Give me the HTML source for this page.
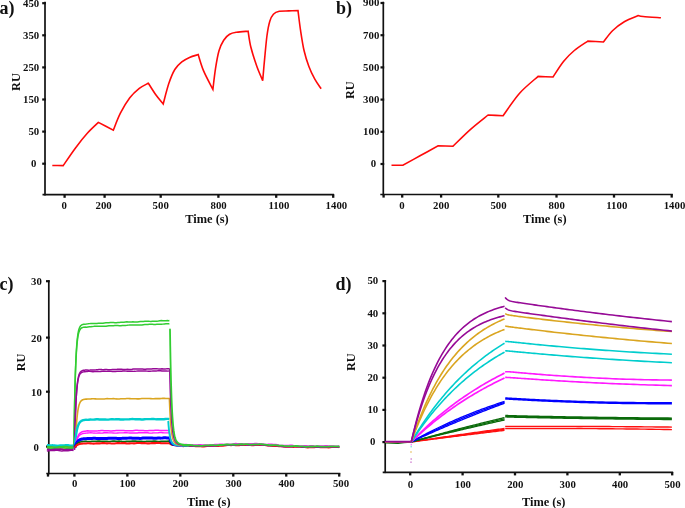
<!DOCTYPE html>
<html><head><meta charset="utf-8"><title>SPR sensorgrams</title>
<style>
html,body{margin:0;padding:0;background:#fff;}
body{width:685px;height:508px;overflow:hidden;}
svg{display:block;will-change:transform;}
svg text{font-family:"Liberation Serif",serif;font-weight:bold;fill:#111;}
</style></head><body>
<svg width="685" height="508" viewBox="0 0 685 508">
<rect width="685" height="508" fill="#fff"/>
<line x1="45.00" y1="1.80" x2="45.00" y2="195.50" stroke="#111" stroke-width="1.7" stroke-linecap="butt"/>
<line x1="42.50" y1="194.70" x2="334.10" y2="194.70" stroke="#111" stroke-width="1.7" stroke-linecap="butt"/>
<line x1="42.20" y1="3.20" x2="45.90" y2="3.20" stroke="#111" stroke-width="2.2" stroke-linecap="butt"/>
<text x="39.20" y="6.50" font-size="10.8" text-anchor="end" >450</text>
<line x1="42.20" y1="35.30" x2="45.90" y2="35.30" stroke="#111" stroke-width="2.2" stroke-linecap="butt"/>
<text x="39.20" y="38.60" font-size="10.8" text-anchor="end" >350</text>
<line x1="42.20" y1="67.40" x2="45.90" y2="67.40" stroke="#111" stroke-width="2.2" stroke-linecap="butt"/>
<text x="39.20" y="70.70" font-size="10.8" text-anchor="end" >250</text>
<line x1="42.20" y1="99.50" x2="45.90" y2="99.50" stroke="#111" stroke-width="2.2" stroke-linecap="butt"/>
<text x="39.20" y="102.80" font-size="10.8" text-anchor="end" >150</text>
<line x1="42.20" y1="131.60" x2="45.90" y2="131.60" stroke="#111" stroke-width="2.2" stroke-linecap="butt"/>
<text x="39.20" y="134.90" font-size="10.8" text-anchor="end" >50</text>
<line x1="42.20" y1="163.70" x2="45.90" y2="163.70" stroke="#111" stroke-width="2.2" stroke-linecap="butt"/>
<text x="36.40" y="167.00" font-size="10.8" text-anchor="end" >0</text>
<line x1="64.60" y1="194.40" x2="64.60" y2="197.80" stroke="#111" stroke-width="2.3" stroke-linecap="butt"/>
<text x="64.30" y="209.00" font-size="10.8" text-anchor="middle" >0</text>
<line x1="104.60" y1="194.40" x2="104.60" y2="197.80" stroke="#111" stroke-width="2.3" stroke-linecap="butt"/>
<text x="103.60" y="209.00" font-size="10.8" text-anchor="middle" >200</text>
<line x1="160.70" y1="194.40" x2="160.70" y2="197.80" stroke="#111" stroke-width="2.3" stroke-linecap="butt"/>
<text x="160.70" y="209.00" font-size="10.8" text-anchor="middle" >500</text>
<line x1="218.40" y1="194.40" x2="218.40" y2="197.80" stroke="#111" stroke-width="2.3" stroke-linecap="butt"/>
<text x="218.60" y="209.00" font-size="10.8" text-anchor="middle" >800</text>
<line x1="276.20" y1="194.40" x2="276.20" y2="197.80" stroke="#111" stroke-width="2.3" stroke-linecap="butt"/>
<text x="278.90" y="209.00" font-size="10.8" text-anchor="middle" >1100</text>
<line x1="333.20" y1="194.40" x2="333.20" y2="197.80" stroke="#111" stroke-width="2.3" stroke-linecap="butt"/>
<text x="336.40" y="209.00" font-size="10.8" text-anchor="middle" >1400</text>
<text transform="translate(15.50,82.00) rotate(-90)" font-size="12.3" text-anchor="middle" dy="0.33em">RU</text>
<text x="207.00" y="223.20" font-size="12.4" text-anchor="middle" >Time (s)</text>
<text x="-0.6" y="13.8" font-size="18">a)</text>
<path d="M52.30,165.50 C54.12,165.52 61.38,165.58 63.20,165.60 L63.20,165.60 C65.25,162.65 71.48,153.28 75.50,147.90 C79.52,142.52 83.48,137.55 87.30,133.30 C91.12,129.05 96.55,124.22 98.40,122.40 L98.40,122.40 C100.88,123.70 110.82,128.90 113.30,130.20 L113.30,130.20 C114.48,127.37 117.65,118.60 120.40,113.20 C123.15,107.80 126.65,101.93 129.80,97.80 C132.95,93.67 136.22,90.83 139.30,88.40 C142.38,85.97 146.80,84.07 148.30,83.20 L148.30,83.20 C149.55,85.13 153.32,91.33 155.80,94.80 C158.28,98.27 161.97,102.47 163.20,104.00 L163.20,104.00 C164.13,100.60 166.87,89.35 168.80,83.60 C170.73,77.85 172.63,73.12 174.80,69.50 C176.97,65.88 179.35,63.92 181.80,61.90 C184.25,59.88 186.77,58.62 189.50,57.40 C192.23,56.18 196.75,55.07 198.20,54.60 L198.20,54.60 C199.10,57.32 201.15,65.10 203.60,70.90 C206.05,76.70 211.35,86.32 212.90,89.40 L212.90,89.40 C213.33,85.93 214.48,75.03 215.50,68.60 C216.52,62.17 217.63,55.53 219.00,50.80 C220.37,46.07 221.93,42.95 223.70,40.20 C225.47,37.45 227.43,35.63 229.60,34.30 C231.77,32.97 233.62,32.72 236.70,32.20 C239.78,31.68 246.20,31.37 248.10,31.20 L248.10,31.20 C248.57,33.88 249.45,41.47 250.90,47.30 C252.35,53.13 254.83,60.65 256.80,66.20 C258.77,71.75 261.72,78.20 262.70,80.60 L262.70,80.60 C263.02,77.02 263.88,66.62 264.60,59.10 C265.32,51.58 266.13,41.80 267.00,35.50 C267.87,29.20 268.73,24.85 269.80,21.30 C270.87,17.75 271.82,15.87 273.40,14.20 C274.98,12.53 276.75,11.85 279.30,11.30 C281.85,10.75 285.58,11.02 288.70,10.90 C291.82,10.78 296.45,10.65 298.00,10.60 L298.00,10.60 C298.43,13.95 299.58,24.00 300.60,30.70 C301.62,37.40 302.73,44.88 304.10,50.80 C305.47,56.72 307.02,61.47 308.80,66.20 C310.58,70.93 312.75,75.45 314.80,79.20 C316.85,82.95 320.05,87.12 321.10,88.70 " fill="none" stroke="#ff0a0a" stroke-width="1.6" stroke-linejoin="miter" stroke-linecap="butt"/>
<line x1="383.30" y1="1.80" x2="383.30" y2="195.30" stroke="#111" stroke-width="1.7" stroke-linecap="butt"/>
<line x1="380.30" y1="194.50" x2="672.80" y2="194.50" stroke="#111" stroke-width="1.7" stroke-linecap="butt"/>
<line x1="380.50" y1="3.00" x2="384.20" y2="3.00" stroke="#111" stroke-width="2.2" stroke-linecap="butt"/>
<text x="379.30" y="6.30" font-size="10.8" text-anchor="end" >900</text>
<line x1="380.50" y1="35.20" x2="384.20" y2="35.20" stroke="#111" stroke-width="2.2" stroke-linecap="butt"/>
<text x="379.30" y="38.50" font-size="10.8" text-anchor="end" >700</text>
<line x1="380.50" y1="67.40" x2="384.20" y2="67.40" stroke="#111" stroke-width="2.2" stroke-linecap="butt"/>
<text x="379.30" y="70.70" font-size="10.8" text-anchor="end" >500</text>
<line x1="380.50" y1="99.60" x2="384.20" y2="99.60" stroke="#111" stroke-width="2.2" stroke-linecap="butt"/>
<text x="379.30" y="102.90" font-size="10.8" text-anchor="end" >300</text>
<line x1="380.50" y1="131.80" x2="384.20" y2="131.80" stroke="#111" stroke-width="2.2" stroke-linecap="butt"/>
<text x="379.30" y="135.10" font-size="10.8" text-anchor="end" >100</text>
<line x1="380.50" y1="164.00" x2="384.20" y2="164.00" stroke="#111" stroke-width="2.2" stroke-linecap="butt"/>
<text x="376.10" y="167.30" font-size="10.8" text-anchor="end" >0</text>
<line x1="383.60" y1="194.20" x2="383.60" y2="197.60" stroke="#111" stroke-width="2.3" stroke-linecap="butt"/>
<line x1="402.20" y1="194.20" x2="402.20" y2="197.60" stroke="#111" stroke-width="2.3" stroke-linecap="butt"/>
<text x="402.00" y="209.10" font-size="10.8" text-anchor="middle" >0</text>
<line x1="441.10" y1="194.20" x2="441.10" y2="197.60" stroke="#111" stroke-width="2.3" stroke-linecap="butt"/>
<text x="441.20" y="209.10" font-size="10.8" text-anchor="middle" >200</text>
<line x1="498.30" y1="194.20" x2="498.30" y2="197.60" stroke="#111" stroke-width="2.3" stroke-linecap="butt"/>
<text x="498.50" y="209.10" font-size="10.8" text-anchor="middle" >500</text>
<line x1="556.50" y1="194.20" x2="556.50" y2="197.60" stroke="#111" stroke-width="2.3" stroke-linecap="butt"/>
<text x="556.70" y="209.10" font-size="10.8" text-anchor="middle" >800</text>
<line x1="614.00" y1="194.20" x2="614.00" y2="197.60" stroke="#111" stroke-width="2.3" stroke-linecap="butt"/>
<text x="616.80" y="209.10" font-size="10.8" text-anchor="middle" >1100</text>
<line x1="671.70" y1="194.20" x2="671.70" y2="197.60" stroke="#111" stroke-width="2.3" stroke-linecap="butt"/>
<text x="674.50" y="209.10" font-size="10.8" text-anchor="middle" >1400</text>
<text transform="translate(350.20,90.20) rotate(-90)" font-size="12.3" text-anchor="middle" dy="0.33em">RU</text>
<text x="544.80" y="222.80" font-size="12.4" text-anchor="middle" >Time (s)</text>
<text x="335.9" y="13.8" font-size="18">b)</text>
<path d="M391.50,165.30 C393.40,165.30 401.00,165.30 402.90,165.30 L402.90,165.30 C405.75,163.72 414.13,159.03 420.00,155.80 C425.87,152.57 435.08,147.55 438.10,145.90 L438.10,145.90 C440.58,145.95 450.52,146.15 453.00,146.20 L453.00,146.20 C455.83,143.47 464.15,135.00 470.00,129.80 C475.85,124.60 485.08,117.47 488.10,115.00 L488.10,115.00 C490.60,115.12 500.60,115.58 503.10,115.70 L503.10,115.70 C505.85,111.95 513.77,99.75 519.60,93.20 C525.43,86.65 535.02,79.20 538.10,76.40 L538.10,76.40 C540.58,76.50 550.52,76.90 553.00,77.00 L553.00,77.00 C554.75,74.42 559.95,65.92 563.50,61.50 C567.05,57.08 570.25,53.90 574.30,50.50 C578.35,47.10 585.55,42.67 587.80,41.10 L587.80,41.10 C590.40,41.25 600.80,41.85 603.40,42.00 L603.40,42.00 C604.92,40.12 609.02,34.08 612.50,30.70 C615.98,27.32 620.02,24.22 624.30,21.70 C628.58,19.18 635.88,16.62 638.20,15.60 L638.20,15.60 C639.03,15.75 639.42,16.15 643.20,16.50 C646.98,16.85 657.95,17.50 660.90,17.70 " fill="none" stroke="#ff0a0a" stroke-width="1.6" stroke-linejoin="miter" stroke-linecap="butt"/>
<line x1="48.80" y1="280.30" x2="48.80" y2="474.30" stroke="#111" stroke-width="1.7" stroke-linecap="butt"/>
<line x1="46.30" y1="473.50" x2="340.30" y2="473.50" stroke="#111" stroke-width="1.7" stroke-linecap="butt"/>
<line x1="46.00" y1="281.20" x2="49.70" y2="281.20" stroke="#111" stroke-width="2.2" stroke-linecap="butt"/>
<text x="41.80" y="285.20" font-size="10.8" text-anchor="end" >30</text>
<line x1="46.00" y1="337.60" x2="49.70" y2="337.60" stroke="#111" stroke-width="2.2" stroke-linecap="butt"/>
<text x="41.80" y="341.60" font-size="10.8" text-anchor="end" >20</text>
<line x1="46.00" y1="391.70" x2="49.70" y2="391.70" stroke="#111" stroke-width="2.2" stroke-linecap="butt"/>
<text x="41.80" y="395.70" font-size="10.8" text-anchor="end" >10</text>
<line x1="46.00" y1="446.60" x2="49.70" y2="446.60" stroke="#111" stroke-width="2.2" stroke-linecap="butt"/>
<text x="39.00" y="450.60" font-size="10.8" text-anchor="end" >0</text>
<line x1="48.00" y1="473.20" x2="48.00" y2="476.60" stroke="#111" stroke-width="2.3" stroke-linecap="butt"/>
<line x1="74.40" y1="473.20" x2="74.40" y2="476.60" stroke="#111" stroke-width="2.3" stroke-linecap="butt"/>
<text x="74.70" y="487.40" font-size="10.8" text-anchor="middle" >0</text>
<line x1="127.36" y1="473.20" x2="127.36" y2="476.60" stroke="#111" stroke-width="2.3" stroke-linecap="butt"/>
<text x="127.66" y="487.40" font-size="10.8" text-anchor="middle" >100</text>
<line x1="180.32" y1="473.20" x2="180.32" y2="476.60" stroke="#111" stroke-width="2.3" stroke-linecap="butt"/>
<text x="180.62" y="487.40" font-size="10.8" text-anchor="middle" >200</text>
<line x1="233.28" y1="473.20" x2="233.28" y2="476.60" stroke="#111" stroke-width="2.3" stroke-linecap="butt"/>
<text x="233.58" y="487.40" font-size="10.8" text-anchor="middle" >300</text>
<line x1="286.24" y1="473.20" x2="286.24" y2="476.60" stroke="#111" stroke-width="2.3" stroke-linecap="butt"/>
<text x="286.54" y="487.40" font-size="10.8" text-anchor="middle" >400</text>
<line x1="339.20" y1="473.20" x2="339.20" y2="476.60" stroke="#111" stroke-width="2.3" stroke-linecap="butt"/>
<text x="341.00" y="487.40" font-size="10.8" text-anchor="middle" >500</text>
<text transform="translate(21.30,362.40) rotate(-90)" font-size="12.3" text-anchor="middle" dy="0.33em">RU</text>
<text x="208.80" y="505.80" font-size="12.4" text-anchor="middle" >Time (s)</text>
<text x="-0.6" y="289.6" font-size="18">c)</text>
<path d="M46.90,447.09 L48.40,447.10 L49.90,447.27 L51.40,447.32 L52.90,447.25 L54.40,447.30 L55.90,447.57 L57.40,447.78 L58.90,447.70 L60.40,447.47 L61.90,447.37 L63.40,447.42 L64.90,447.38 L66.40,447.15 L67.90,447.01 L69.40,447.16 L70.90,447.45 L72.40,447.56 L73.50,447.40" fill="none" stroke="#ff1010" stroke-width="1.5" stroke-linejoin="round" stroke-linecap="butt"/>
<path d="M46.90,447.30 L48.40,447.37 L49.90,447.30 L51.40,447.36 L52.90,447.62 L54.40,447.80 L55.90,447.68 L57.40,447.42 L58.90,447.31 L60.40,447.37 L61.90,447.34 L63.40,447.14 L64.90,447.03 L66.40,447.21 L67.90,447.51 L69.40,447.62 L70.90,447.53 L72.40,447.51 L73.50,447.40" fill="none" stroke="#0a6a0a" stroke-width="1.5" stroke-linejoin="round" stroke-linecap="butt"/>
<path d="M46.90,447.36 L48.40,447.42 L49.90,447.65 L51.40,447.80 L52.90,447.64 L54.40,447.36 L55.90,447.25 L57.40,447.32 L58.90,447.31 L60.40,447.13 L61.90,447.06 L63.40,447.27 L64.90,447.57 L66.40,447.67 L67.90,447.55 L69.40,447.51 L70.90,447.61 L72.40,447.63 L73.50,447.40" fill="none" stroke="#0000ff" stroke-width="1.5" stroke-linejoin="round" stroke-linecap="butt"/>
<path d="M46.90,447.67 L48.40,447.78 L49.90,447.59 L51.40,447.30 L52.90,447.20 L54.40,447.28 L55.90,447.29 L57.40,447.15 L58.90,447.11 L60.40,447.34 L61.90,447.64 L63.40,447.70 L64.90,447.56 L66.40,447.49 L67.90,447.57 L69.40,447.57 L70.90,447.33 L72.40,447.06 L73.50,447.40" fill="none" stroke="#ff1aff" stroke-width="1.5" stroke-linejoin="round" stroke-linecap="butt"/>
<path d="M46.90,447.73 L48.40,447.43 L49.90,447.35 L51.40,447.46 L52.90,447.49 L54.40,447.38 L55.90,447.36 L57.40,447.60 L58.90,447.89 L60.40,447.93 L61.90,447.76 L63.40,447.66 L64.90,447.72 L66.40,447.71 L67.90,447.47 L69.40,447.23 L70.90,447.26 L72.40,447.50 L73.50,447.60" fill="none" stroke="#daa520" stroke-width="1.5" stroke-linejoin="round" stroke-linecap="butt"/>
<path d="M46.90,445.06 L48.40,445.21 L49.90,445.34 L51.40,445.29 L52.90,445.27 L54.40,445.47 L55.90,445.74 L57.40,445.77 L58.90,445.54 L60.40,445.36 L61.90,445.38 L63.40,445.41 L64.90,445.24 L66.40,445.03 L67.90,445.08 L69.40,445.36 L70.90,445.57 L72.40,445.54 L73.50,445.40" fill="none" stroke="#00cdcd" stroke-width="2.3" stroke-linejoin="round" stroke-linecap="butt"/>
<path d="M46.90,446.63 L48.40,446.76 L49.90,446.72 L51.40,446.71 L52.90,446.92 L54.40,447.17 L55.90,447.15 L57.40,446.90 L58.90,446.73 L60.40,446.76 L61.90,446.77 L63.40,446.61 L64.90,446.43 L66.40,446.52 L67.90,446.82 L69.40,447.00 L70.90,446.95 L72.40,446.89 L73.50,446.80" fill="none" stroke="#32cd32" stroke-width="1.5" stroke-linejoin="round" stroke-linecap="butt"/>
<path d="M46.90,447.99 L48.40,447.94 L49.90,448.08 L51.40,448.33 L52.90,448.38 L54.40,448.14 L55.90,447.91 L57.40,447.89 L58.90,447.95 L60.40,447.85 L61.90,447.67 L63.40,447.69 L64.90,447.98 L66.40,448.23 L67.90,448.22 L69.40,448.11 L70.90,448.14 L72.40,448.26 L73.50,448.00" fill="none" stroke="#32cd32" stroke-width="1.5" stroke-linejoin="round" stroke-linecap="butt"/>
<path d="M46.90,449.40 L48.40,449.60 L49.90,449.78 L51.40,449.69 L52.90,449.39 L54.40,449.23 L55.90,449.28 L57.40,449.32 L58.90,449.18 L60.40,449.07 L61.90,449.22 L63.40,449.54 L64.90,449.69 L66.40,449.59 L67.90,449.50 L69.40,449.57 L70.90,449.63 L72.40,449.44 L73.50,449.40" fill="none" stroke="#960a96" stroke-width="1.5" stroke-linejoin="round" stroke-linecap="butt"/>
<path d="M46.90,450.97 L48.40,450.79 L49.90,450.48 L51.40,450.37 L52.90,450.46 L54.40,450.49 L55.90,450.37 L57.40,450.32 L58.90,450.54 L60.40,450.85 L61.90,450.92 L63.40,450.77 L64.90,450.68 L66.40,450.74 L67.90,450.75 L69.40,450.53 L70.90,450.26 L72.40,450.24 L73.50,450.60" fill="none" stroke="#960a96" stroke-width="1.5" stroke-linejoin="round" stroke-linecap="butt"/>
<path d="M73.90,447.40 L74.27,422.13 L74.63,402.03 L75.00,386.05 L75.37,373.34 L75.73,363.24 L76.10,355.20 L76.47,348.81 L76.83,343.73 L77.20,339.69 L77.57,336.48 L77.93,333.92 L78.30,331.89 L78.67,330.27 L79.03,328.99 L79.40,327.97 L79.77,327.15 L80.13,326.51 L80.50,325.99 L80.87,325.59 L81.23,325.26 L81.60,325.00 L81.97,324.80 L82.33,324.63 L82.70,324.50 L83.07,324.40 L83.43,324.32 L83.80,324.25 L84.17,324.20 L84.53,324.16 L84.90,324.13 L86.40,324.02 L87.90,323.86 L89.40,323.62 L90.90,323.42 L92.40,323.41 L93.90,323.51 L95.40,323.52 L96.90,323.41 L98.40,323.33 L99.90,323.36 L101.40,323.35 L102.90,323.17 L104.40,322.91 L105.90,322.76 L107.40,322.76 L108.90,322.74 L110.40,322.62 L111.90,322.52 L113.40,322.59 L114.90,322.73 L116.40,322.72 L117.90,322.55 L119.40,322.41 L120.90,322.37 L122.40,322.33 L123.90,322.14 L125.40,321.92 L126.90,321.85 L128.40,321.95 L129.90,322.01 L131.40,321.94 L132.90,321.87 L134.40,321.92 L135.90,321.99 L137.40,321.89 L138.90,321.65 L140.40,321.47 L141.90,321.44 L143.40,321.43 L144.90,321.31 L146.40,321.18 L147.90,321.20 L149.40,321.35 L150.90,321.42 L152.40,321.31 L153.90,321.18 L155.40,321.15 L156.90,321.15 L158.40,321.01 L159.90,320.76 L161.40,320.62 L162.90,320.67 L164.40,320.74 L165.90,320.70 L167.40,320.62 L168.90,320.65 L169.40,320.60" fill="none" stroke="#32cd32" stroke-width="1.5" stroke-linejoin="round" stroke-linecap="butt"/>
<path d="M73.90,447.40 L74.27,422.74 L74.63,403.13 L75.00,387.54 L75.37,375.14 L75.73,365.28 L76.10,357.44 L76.47,351.21 L76.83,346.25 L77.20,342.31 L77.57,339.17 L77.93,336.68 L78.30,334.70 L78.67,333.12 L79.03,331.87 L79.40,330.87 L79.77,330.08 L80.13,329.45 L80.50,328.95 L80.87,328.55 L81.23,328.23 L81.60,327.98 L81.97,327.78 L82.33,327.62 L82.70,327.49 L83.07,327.39 L83.43,327.31 L83.80,327.25 L84.17,327.20 L84.53,327.16 L84.90,327.12 L86.40,327.17 L87.90,326.92 L89.40,326.82 L90.90,326.77 L92.40,326.62 L93.90,326.37 L95.40,326.22 L96.90,326.26 L98.40,326.35 L99.90,326.32 L101.40,326.22 L102.90,326.21 L104.40,326.29 L105.90,326.26 L107.40,326.05 L108.90,325.81 L110.40,325.73 L111.90,325.73 L113.40,325.65 L114.90,325.50 L116.40,325.46 L117.90,325.58 L119.40,325.69 L120.90,325.64 L122.40,325.49 L123.90,325.42 L125.40,325.43 L126.90,325.34 L128.40,325.12 L129.90,324.92 L131.40,324.90 L132.90,324.99 L134.40,325.00 L135.90,324.91 L137.40,324.89 L138.90,325.00 L140.40,325.06 L141.90,324.92 L143.40,324.70 L144.90,324.58 L146.40,324.57 L147.90,324.51 L149.40,324.35 L150.90,324.24 L152.40,324.31 L153.90,324.46 L155.40,324.48 L156.90,324.37 L158.40,324.30 L159.90,324.33 L161.40,324.31 L162.90,324.12 L164.40,323.88 L165.90,323.79 L167.40,323.85 L168.90,323.87 L169.40,323.90" fill="none" stroke="#32cd32" stroke-width="1.5" stroke-linejoin="round" stroke-linecap="butt"/>
<path d="M74.50,449.80 L74.87,433.46 L75.23,420.46 L75.60,410.13 L75.97,401.91 L76.33,395.37 L76.70,390.18 L77.07,386.04 L77.43,382.76 L77.80,380.15 L78.17,378.07 L78.53,376.42 L78.90,375.10 L79.27,374.06 L79.63,373.23 L80.00,372.57 L80.37,372.04 L80.73,371.62 L81.10,371.29 L81.47,371.03 L81.83,370.82 L82.20,370.65 L82.57,370.52 L82.93,370.41 L83.30,370.33 L83.67,370.26 L84.03,370.21 L84.40,370.16 L84.77,370.13 L85.13,370.10 L85.50,370.08 L87.00,370.02 L88.50,370.13 L90.00,370.09 L91.50,369.95 L93.00,369.90 L94.50,369.93 L96.00,369.86 L97.50,369.65 L99.00,369.48 L100.50,369.50 L102.00,369.62 L103.50,369.64 L105.00,369.58 L106.50,369.59 L108.00,369.72 L109.50,369.79 L111.00,369.68 L112.50,369.48 L114.00,369.38 L115.50,369.40 L117.00,369.37 L118.50,369.23 L120.00,369.15 L121.50,369.26 L123.00,369.43 L124.50,369.47 L126.00,369.38 L127.50,369.33 L129.00,369.39 L130.50,369.38 L132.00,369.21 L133.50,369.00 L135.00,368.95 L136.50,369.03 L138.00,369.07 L139.50,369.01 L141.00,369.00 L142.50,369.12 L144.00,369.26 L145.50,369.23 L147.00,369.06 L148.50,368.95 L150.00,368.95 L151.50,368.93 L153.00,368.79 L154.50,368.65 L156.00,368.68 L157.50,368.85 L159.00,368.94 L160.50,368.89 L162.00,368.85 L163.50,368.91 L165.00,368.97 L166.50,368.86 L168.00,368.63 L169.40,368.70" fill="none" stroke="#960a96" stroke-width="1.5" stroke-linejoin="round" stroke-linecap="butt"/>
<path d="M74.50,449.80 L74.87,433.78 L75.23,421.05 L75.60,410.92 L75.97,402.87 L76.33,396.46 L76.70,391.37 L77.07,387.32 L77.43,384.10 L77.80,381.54 L78.17,379.51 L78.53,377.89 L78.90,376.60 L79.27,375.58 L79.63,374.76 L80.00,374.11 L80.37,373.60 L80.73,373.19 L81.10,372.86 L81.47,372.61 L81.83,372.40 L82.20,372.24 L82.57,372.11 L82.93,372.00 L83.30,371.92 L83.67,371.85 L84.03,371.80 L84.40,371.76 L84.77,371.73 L85.13,371.70 L85.50,371.68 L87.00,371.48 L88.50,371.35 L90.00,371.39 L91.50,371.57 L93.00,371.68 L94.50,371.62 L96.00,371.55 L97.50,371.57 L99.00,371.62 L100.50,371.51 L102.00,371.30 L103.50,371.18 L105.00,371.24 L106.50,371.33 L108.00,371.31 L109.50,371.26 L111.00,371.35 L112.50,371.51 L114.00,371.56 L115.50,371.43 L117.00,371.28 L118.50,371.25 L120.00,371.27 L121.50,371.18 L123.00,371.02 L124.50,371.00 L126.00,371.15 L127.50,371.30 L129.00,371.30 L130.50,371.23 L132.00,371.26 L133.50,371.35 L135.00,371.32 L136.50,371.12 L138.00,370.95 L139.50,370.95 L141.00,371.03 L142.50,371.01 L144.00,370.94 L145.50,370.98 L147.00,371.16 L148.50,371.28 L150.00,371.22 L151.50,371.08 L153.00,371.03 L154.50,371.06 L156.00,371.00 L157.50,370.82 L159.00,370.72 L160.50,370.80 L162.00,370.96 L163.50,371.00 L165.00,370.95 L166.50,370.97 L168.00,371.09 L169.40,370.90" fill="none" stroke="#960a96" stroke-width="1.4" stroke-linejoin="round" stroke-linecap="butt"/>
<path d="M75.30,447.60 L75.67,438.64 L76.03,431.34 L76.40,425.38 L76.77,420.52 L77.13,416.55 L77.50,413.32 L77.87,410.68 L78.23,408.53 L78.60,406.77 L78.97,405.34 L79.33,404.17 L79.70,403.22 L80.07,402.44 L80.43,401.81 L80.80,401.29 L81.17,400.87 L81.53,400.52 L81.90,400.24 L82.27,400.01 L82.63,399.83 L83.00,399.67 L83.37,399.55 L83.73,399.45 L84.10,399.37 L84.47,399.30 L84.83,399.24 L85.20,399.20 L85.57,399.16 L85.93,399.13 L86.30,399.11 L87.80,398.98 L89.30,398.98 L90.80,398.87 L92.30,398.72 L93.80,398.73 L95.30,398.89 L96.80,399.02 L98.30,399.00 L99.80,398.95 L101.30,398.99 L102.80,399.07 L104.30,399.00 L105.80,398.80 L107.30,398.65 L108.80,398.68 L110.30,398.76 L111.80,398.73 L113.30,398.67 L114.80,398.74 L116.30,398.92 L117.80,399.02 L119.30,398.93 L120.80,398.79 L122.30,398.77 L123.80,398.80 L125.30,398.71 L126.80,398.53 L128.30,398.46 L129.80,398.58 L131.30,398.73 L132.80,398.75 L134.30,398.70 L135.80,398.75 L137.30,398.87 L138.80,398.88 L140.30,398.71 L141.80,398.52 L143.30,398.50 L144.80,398.55 L146.30,398.53 L147.80,398.44 L149.30,398.45 L150.80,398.62 L152.30,398.78 L153.80,398.76 L155.30,398.65 L156.80,398.62 L158.30,398.66 L159.80,398.61 L161.30,398.43 L162.80,398.29 L164.30,398.33 L165.80,398.47 L167.30,398.52 L168.80,398.48 L169.40,398.50" fill="none" stroke="#daa520" stroke-width="1.6" stroke-linejoin="round" stroke-linecap="butt"/>
<path d="M74.90,445.40 L75.27,441.44 L75.63,438.09 L76.00,435.25 L76.37,432.85 L76.73,430.81 L77.10,429.09 L77.47,427.63 L77.83,426.40 L78.20,425.36 L78.57,424.47 L78.93,423.72 L79.30,423.09 L79.67,422.56 L80.03,422.10 L80.40,421.72 L80.77,421.39 L81.13,421.12 L81.50,420.88 L81.87,420.69 L82.23,420.52 L82.60,420.38 L82.97,420.26 L83.33,420.16 L83.70,420.07 L84.07,420.00 L84.43,419.94 L84.80,419.89 L85.17,419.84 L85.53,419.81 L85.90,419.77 L87.40,419.83 L88.90,419.69 L90.40,419.57 L91.90,419.58 L93.40,419.58 L94.90,419.44 L96.40,419.28 L97.90,419.28 L99.40,419.44 L100.90,419.55 L102.40,419.52 L103.90,419.49 L105.40,419.57 L106.90,419.67 L108.40,419.60 L109.90,419.40 L111.40,419.26 L112.90,419.29 L114.40,419.33 L115.90,419.27 L117.40,419.20 L118.90,419.27 L120.40,419.47 L121.90,419.57 L123.40,419.49 L124.90,419.39 L126.40,419.39 L127.90,419.42 L129.40,419.31 L130.90,419.12 L132.40,419.04 L133.90,419.15 L135.40,419.27 L136.90,419.27 L138.40,419.24 L139.90,419.31 L141.40,419.45 L142.90,419.47 L144.40,419.31 L145.90,419.14 L147.40,419.12 L148.90,419.16 L150.40,419.10 L151.90,418.98 L153.40,419.00 L154.90,419.17 L156.40,419.32 L157.90,419.31 L159.40,419.22 L160.90,419.23 L162.40,419.29 L163.90,419.23 L165.40,419.04 L166.90,418.89 L168.40,418.92 L169.40,419.10" fill="none" stroke="#00cdcd" stroke-width="2.4" stroke-linejoin="round" stroke-linecap="butt"/>
<path d="M75.20,447.40 L75.57,445.06 L75.93,443.06 L76.30,441.33 L76.67,439.86 L77.03,438.59 L77.40,437.50 L77.77,436.56 L78.13,435.76 L78.50,435.07 L78.87,434.48 L79.23,433.97 L79.60,433.54 L79.97,433.16 L80.33,432.84 L80.70,432.57 L81.07,432.33 L81.43,432.13 L81.80,431.95 L82.17,431.81 L82.53,431.68 L82.90,431.57 L83.27,431.47 L83.63,431.39 L84.00,431.32 L84.37,431.26 L84.73,431.21 L85.10,431.17 L85.47,431.13 L85.83,431.10 L86.20,431.07 L87.70,430.78 L89.20,430.96 L90.70,431.08 L92.20,431.02 L93.70,430.90 L95.20,430.88 L96.70,430.91 L98.20,430.83 L99.70,430.64 L101.20,430.53 L102.70,430.61 L104.20,430.75 L105.70,430.77 L107.20,430.72 L108.70,430.77 L110.20,430.91 L111.70,430.96 L113.20,430.81 L114.70,430.63 L116.20,430.58 L117.70,430.62 L119.20,430.59 L120.70,430.47 L122.20,430.45 L123.70,430.61 L125.20,430.78 L126.70,430.79 L128.20,430.70 L129.70,430.68 L131.20,430.74 L132.70,430.71 L134.20,430.53 L135.70,430.36 L137.20,430.36 L138.70,430.48 L140.20,430.52 L141.70,430.48 L143.20,430.50 L144.70,430.65 L146.20,430.77 L147.70,430.70 L149.20,430.53 L150.70,430.44 L152.20,430.47 L153.70,430.45 L155.20,430.31 L156.70,430.22 L158.20,430.32 L159.70,430.50 L161.20,430.57 L162.70,430.51 L164.20,430.49 L165.70,430.57 L167.20,430.60 L168.70,430.46 L169.40,430.40" fill="none" stroke="#ff1aff" stroke-width="1.5" stroke-linejoin="round" stroke-linecap="butt"/>
<path d="M75.20,447.40 L75.57,445.36 L75.93,443.61 L76.30,442.11 L76.67,440.82 L77.03,439.71 L77.40,438.76 L77.77,437.94 L78.13,437.24 L78.50,436.64 L78.87,436.13 L79.23,435.68 L79.60,435.30 L79.97,434.98 L80.33,434.70 L80.70,434.46 L81.07,434.25 L81.43,434.07 L81.80,433.92 L82.17,433.79 L82.53,433.68 L82.90,433.58 L83.27,433.50 L83.63,433.43 L84.00,433.37 L84.37,433.32 L84.73,433.27 L85.10,433.23 L85.47,433.20 L85.83,433.17 L86.20,433.15 L87.70,432.94 L89.20,432.85 L90.70,432.77 L92.20,432.88 L93.70,433.07 L95.20,433.16 L96.70,433.08 L98.20,433.02 L99.70,433.07 L101.20,433.09 L102.70,432.96 L104.20,432.77 L105.70,432.71 L107.20,432.82 L108.70,432.91 L110.20,432.89 L111.70,432.87 L113.20,432.98 L114.70,433.14 L116.20,433.15 L117.70,432.99 L119.20,432.86 L120.70,432.86 L122.20,432.88 L123.70,432.79 L125.20,432.66 L126.70,432.70 L128.20,432.88 L129.70,433.01 L131.20,432.99 L132.70,432.94 L134.20,432.99 L135.70,433.06 L137.20,432.99 L138.70,432.78 L140.20,432.66 L141.70,432.70 L143.20,432.79 L144.70,432.78 L146.20,432.73 L147.70,432.81 L149.20,433.00 L150.70,433.08 L152.20,432.99 L153.70,432.85 L155.20,432.83 L156.70,432.86 L158.20,432.78 L159.70,432.62 L161.20,432.57 L162.70,432.71 L164.20,432.86 L165.70,432.88 L167.20,432.84 L168.70,432.89 L169.40,432.80" fill="none" stroke="#ff1aff" stroke-width="1.4" stroke-linejoin="round" stroke-linecap="butt"/>
<path d="M75.00,447.40 L75.37,446.15 L75.73,445.08 L76.10,444.16 L76.47,443.38 L76.83,442.70 L77.20,442.12 L77.57,441.62 L77.93,441.19 L78.30,440.82 L78.67,440.51 L79.03,440.24 L79.40,440.01 L79.77,439.81 L80.13,439.64 L80.50,439.49 L80.87,439.36 L81.23,439.26 L81.60,439.16 L81.97,439.08 L82.33,439.01 L82.70,438.96 L83.07,438.91 L83.43,438.86 L83.80,438.82 L84.17,438.79 L84.53,438.77 L84.90,438.74 L85.27,438.72 L85.63,438.70 L86.00,438.69 L87.50,438.60 L89.00,438.51 L90.50,438.53 L92.00,438.49 L93.50,438.35 L95.00,438.28 L96.50,438.39 L98.00,438.57 L99.50,438.61 L101.00,438.54 L102.50,438.52 L104.00,438.59 L105.50,438.60 L107.00,438.43 L108.50,438.23 L110.00,438.19 L111.50,438.28 L113.00,438.31 L114.50,438.25 L116.00,438.25 L117.50,438.39 L119.00,438.55 L120.50,438.53 L122.00,438.37 L123.50,438.28 L125.00,438.30 L126.50,438.28 L128.00,438.13 L129.50,438.00 L131.00,438.05 L132.50,438.22 L134.00,438.31 L135.50,438.27 L137.00,438.24 L138.50,438.33 L140.00,438.40 L141.50,438.30 L143.00,438.09 L144.50,437.98 L146.00,438.03 L147.50,438.07 L149.00,438.00 L150.50,437.95 L152.00,438.06 L153.50,438.25 L155.00,438.31 L156.50,438.21 L158.00,438.11 L159.50,438.12 L161.00,438.13 L162.50,438.00 L164.00,437.82 L165.50,437.78 L167.00,437.91 L168.50,438.03 L169.40,438.00" fill="none" stroke="#0000ff" stroke-width="3.0" stroke-linejoin="round" stroke-linecap="butt"/>
<path d="M75.00,447.40 L75.37,446.54 L75.73,445.79 L76.10,445.16 L76.47,444.61 L76.83,444.14 L77.20,443.74 L77.57,443.39 L77.93,443.10 L78.30,442.84 L78.67,442.62 L79.03,442.44 L79.40,442.28 L79.77,442.14 L80.13,442.02 L80.50,441.92 L80.87,441.83 L81.23,441.75 L81.60,441.69 L81.97,441.63 L82.33,441.59 L82.70,441.55 L83.07,441.51 L83.43,441.48 L83.80,441.46 L84.17,441.43 L84.53,441.41 L84.90,441.40 L85.27,441.38 L85.63,441.37 L86.00,441.36 L87.50,441.48 L89.00,441.55 L90.50,441.43 L92.00,441.30 L93.50,441.30 L95.00,441.32 L96.50,441.23 L98.00,441.08 L99.50,441.07 L101.00,441.22 L102.50,441.38 L104.00,441.38 L105.50,441.34 L107.00,441.40 L108.50,441.51 L110.00,441.48 L111.50,441.29 L113.00,441.14 L114.50,441.15 L116.00,441.23 L117.50,441.21 L119.00,441.14 L120.50,441.20 L122.00,441.39 L123.50,441.53 L125.00,441.48 L126.50,441.36 L128.00,441.34 L129.50,441.38 L131.00,441.32 L132.50,441.14 L134.00,441.05 L135.50,441.14 L137.00,441.30 L138.50,441.34 L140.00,441.30 L141.50,441.35 L143.00,441.49 L144.50,441.54 L146.00,441.40 L147.50,441.22 L149.00,441.18 L150.50,441.24 L152.00,441.22 L153.50,441.12 L155.00,441.11 L156.50,441.28 L158.00,441.46 L159.50,441.48 L161.00,441.39 L162.50,441.36 L164.00,441.42 L165.50,441.41 L167.00,441.24 L168.50,441.07 L169.40,441.30" fill="none" stroke="#0a6a0a" stroke-width="1.6" stroke-linejoin="round" stroke-linecap="butt"/>
<path d="M75.00,447.40 L75.37,446.83 L75.73,446.35 L76.10,445.93 L76.47,445.57 L76.83,445.26 L77.20,445.00 L77.57,444.77 L77.93,444.58 L78.30,444.41 L78.67,444.27 L79.03,444.15 L79.40,444.04 L79.77,443.95 L80.13,443.87 L80.50,443.80 L80.87,443.75 L81.23,443.70 L81.60,443.66 L81.97,443.62 L82.33,443.59 L82.70,443.56 L83.07,443.54 L83.43,443.52 L83.80,443.50 L84.17,443.49 L84.53,443.48 L84.90,443.46 L85.27,443.46 L85.63,443.45 L86.00,443.44 L87.50,443.27 L89.00,443.25 L90.50,443.40 L92.00,443.57 L93.50,443.58 L95.00,443.45 L96.50,443.38 L98.00,443.41 L99.50,443.39 L101.00,443.23 L102.50,443.08 L104.00,443.10 L105.50,443.26 L107.00,443.35 L108.50,443.32 L110.00,443.31 L111.50,443.43 L113.00,443.52 L114.50,443.44 L116.00,443.25 L117.50,443.14 L119.00,443.17 L120.50,443.20 L122.00,443.11 L123.50,443.05 L125.00,443.15 L126.50,443.35 L128.00,443.43 L129.50,443.35 L131.00,443.28 L132.50,443.31 L134.00,443.33 L135.50,443.21 L137.00,443.01 L138.50,442.96 L140.00,443.07 L141.50,443.17 L143.00,443.16 L144.50,443.13 L146.00,443.24 L147.50,443.39 L149.00,443.39 L150.50,443.23 L152.00,443.09 L153.50,443.09 L155.00,443.12 L156.50,443.03 L158.00,442.91 L159.50,442.94 L161.00,443.13 L162.50,443.27 L164.00,443.24 L165.50,443.18 L167.00,443.21 L168.50,443.28 L169.40,443.10" fill="none" stroke="#ff1010" stroke-width="2.1" stroke-linejoin="round" stroke-linecap="butt"/>
<path d="M183.00,446.45 L184.60,446.27 L186.20,446.18 L187.80,446.24 L189.40,446.24 L191.00,446.11 L192.60,446.06 L194.20,446.26 L195.80,446.50 L197.40,446.56 L199.00,446.53 L200.60,446.61 L202.20,446.73 L203.80,446.65 L205.40,446.39 L207.00,446.20 L208.60,446.21 L210.20,446.20 L211.80,446.06 L213.40,445.96 L215.00,446.06 L216.60,446.21 L218.20,446.15 L219.80,445.97 L221.40,445.90 L223.00,445.90 L224.60,445.74 L226.20,445.44 L227.80,445.27 L229.40,445.33 L231.00,445.42 L232.60,445.37 L234.20,445.32 L235.80,445.44 L237.40,445.56 L239.00,445.46 L240.60,445.22 L242.20,445.11 L243.80,445.17 L245.40,445.17 L247.00,445.06 L248.60,445.05 L250.20,445.25 L251.80,445.44 L253.40,445.41 L255.00,445.28 L256.60,445.28 L258.20,445.33 L259.80,445.22 L261.40,445.05 L263.00,445.09 L264.60,445.36 L266.20,445.61 L267.80,445.71 L269.40,445.81 L271.00,446.04 L272.60,446.19 L274.20,446.16 L275.80,446.07 L277.40,446.18 L279.00,446.41 L280.60,446.54 L282.20,446.55 L283.80,446.66 L285.40,446.91 L287.00,447.09 L288.60,447.07 L290.20,447.03 L291.80,447.12 L293.40,447.22 L295.00,447.11 L296.60,446.93 L298.20,446.93 L299.80,447.11 L301.40,447.22 L303.00,447.21 L304.60,447.29 L306.20,447.52 L307.80,447.67 L309.40,447.57 L311.00,447.40 L312.60,447.37 L314.20,447.41 L315.80,447.30 L317.40,447.14 L319.00,447.17 L320.60,447.39 L322.20,447.53 L323.80,447.49 L325.40,447.47 L327.00,447.58 L328.60,447.63 L330.20,447.45 L331.80,447.23 L333.40,447.20 L335.00,447.31 L336.60,447.32 L338.20,447.24 L338.80,447.40" fill="none" stroke="#ff1010" stroke-width="1.5" stroke-linejoin="round" stroke-linecap="round"/>
<path d="M183.00,445.71 L184.60,445.77 L186.20,445.74 L187.80,445.62 L189.40,445.64 L191.00,445.88 L192.60,446.10 L194.20,446.12 L195.80,446.08 L197.40,446.17 L199.00,446.27 L200.60,446.16 L202.20,445.93 L203.80,445.86 L205.40,445.95 L207.00,445.97 L208.60,445.85 L210.20,445.79 L211.80,445.91 L213.40,445.98 L215.00,445.82 L216.60,445.58 L218.20,445.50 L219.80,445.52 L221.40,445.41 L223.00,445.18 L224.60,445.10 L226.20,445.21 L227.80,445.26 L229.40,445.14 L231.00,445.03 L232.60,445.09 L234.20,445.14 L235.80,444.99 L237.40,444.75 L239.00,444.70 L240.60,444.79 L242.20,444.79 L243.80,444.70 L245.40,444.75 L247.00,444.96 L248.60,445.10 L250.20,445.00 L251.80,444.86 L253.40,444.86 L255.00,444.88 L256.60,444.74 L258.20,444.54 L259.80,444.56 L261.40,444.81 L263.00,445.01 L264.60,445.10 L266.20,445.25 L267.80,445.53 L269.40,445.70 L271.00,445.59 L272.60,445.40 L274.20,445.44 L275.80,445.64 L277.40,445.76 L279.00,445.84 L280.60,446.09 L282.20,446.48 L283.80,446.70 L285.40,446.64 L287.00,446.57 L288.60,446.64 L290.20,446.68 L291.80,446.53 L293.40,446.38 L295.00,446.45 L296.60,446.66 L298.20,446.77 L299.80,446.77 L301.40,446.88 L303.00,447.12 L304.60,447.22 L306.20,447.08 L307.80,446.92 L309.40,446.93 L311.00,446.97 L312.60,446.86 L314.20,446.74 L315.80,446.84 L317.40,447.08 L319.00,447.18 L320.60,447.10 L322.20,447.08 L323.80,447.17 L325.40,447.17 L327.00,446.96 L328.60,446.77 L330.20,446.80 L331.80,446.93 L333.40,446.93 L335.00,446.89 L336.60,447.00 L338.20,447.22 L338.80,447.00" fill="none" stroke="#960a96" stroke-width="1.7" stroke-linejoin="round" stroke-linecap="round"/>
<path d="M183.00,444.52 L184.60,444.41 L186.20,444.41 L187.80,444.63 L189.40,444.86 L191.00,444.89 L192.60,444.82 L194.20,444.88 L195.80,444.97 L197.40,444.89 L199.00,444.69 L200.60,444.62 L202.20,444.77 L203.80,444.87 L205.40,444.81 L207.00,444.77 L208.60,444.88 L210.20,444.95 L211.80,444.78 L213.40,444.50 L215.00,444.36 L216.60,444.34 L218.20,444.24 L219.80,444.07 L221.40,444.04 L223.00,444.20 L224.60,444.30 L226.20,444.18 L227.80,444.02 L229.40,444.00 L231.00,443.98 L232.60,443.79 L234.20,443.53 L235.80,443.47 L237.40,443.58 L239.00,443.63 L240.60,443.56 L242.20,443.59 L243.80,443.79 L245.40,443.93 L247.00,443.83 L248.60,443.66 L250.20,443.63 L251.80,443.66 L253.40,443.54 L255.00,443.35 L256.60,443.36 L258.20,443.56 L259.80,443.70 L261.40,443.73 L263.00,443.81 L264.60,444.06 L266.20,444.26 L267.80,444.22 L269.40,444.09 L271.00,444.11 L272.60,444.22 L274.20,444.28 L275.80,444.32 L277.40,444.56 L279.00,444.97 L280.60,445.29 L282.20,445.34 L283.80,445.32 L285.40,445.37 L287.00,445.40 L288.60,445.26 L290.20,445.09 L291.80,445.15 L293.40,445.38 L295.00,445.51 L296.60,445.52 L298.20,445.61 L299.80,445.83 L301.40,445.94 L303.00,445.80 L304.60,445.64 L306.20,445.66 L307.80,445.73 L309.40,445.67 L311.00,445.57 L312.60,445.66 L314.20,445.90 L315.80,446.01 L317.40,445.93 L319.00,445.87 L320.60,445.94 L322.20,445.94 L323.80,445.74 L325.40,445.55 L327.00,445.58 L328.60,445.74 L330.20,445.78 L331.80,445.73 L333.40,445.82 L335.00,446.02 L336.60,446.08 L338.20,445.90 L338.80,445.80" fill="none" stroke="#ff1aff" stroke-width="1.2" stroke-linejoin="round" stroke-linecap="round"/>
<path d="M169.30,443.20 L169.33,443.24 L169.39,443.32 L169.47,443.42 L169.56,443.55 L169.68,443.68 L169.80,443.81 L169.94,443.96 L170.10,444.10 L170.26,444.23 L170.44,444.36 L170.63,444.49 L170.82,444.61 L171.03,444.72 L171.25,444.82 L171.48,444.91 L171.71,444.99 L171.96,445.07 L172.21,445.14 L172.48,445.19 L172.75,445.25 L173.03,445.29 L173.32,445.33 L173.61,445.37 L173.92,445.40 L174.23,445.42 L174.55,445.45 L174.87,445.47 L175.21,445.48 L175.55,445.50 L175.90,445.51 L176.25,445.52 L176.62,445.53 L176.98,445.54 L177.36,445.54 L177.74,445.55 L178.13,445.55 L178.53,445.56 L178.93,445.56 L179.34,445.56 L179.75,445.57 L180.18,445.57 L180.60,445.57 L181.04,445.57 L181.48,445.58 L181.92,445.58 L182.37,445.58 L182.83,445.58 L183.30,445.58 L183.76,445.58 L184.24,445.59 L184.72,445.59 L185.21,445.59 L185.70,445.59 L186.20,445.59 L186.70,445.59 L187.21,445.59 L187.72,445.59 L188.24,445.59 L188.77,445.59 L189.30,445.59" fill="none" stroke="#ff1010" stroke-width="1.4" stroke-linejoin="round" stroke-linecap="round"/>
<path d="M169.30,441.30 L169.33,441.37 L169.39,441.52 L169.47,441.70 L169.56,441.92 L169.68,442.15 L169.80,442.40 L169.94,442.65 L170.10,442.90 L170.26,443.15 L170.44,443.39 L170.63,443.61 L170.82,443.82 L171.03,444.02 L171.25,444.20 L171.48,444.36 L171.71,444.51 L171.96,444.65 L172.21,444.77 L172.48,444.87 L172.75,444.97 L173.03,445.05 L173.32,445.12 L173.61,445.18 L173.92,445.24 L174.23,445.28 L174.55,445.32 L174.87,445.36 L175.21,445.39 L175.55,445.41 L175.90,445.44 L176.25,445.45 L176.62,445.47 L176.98,445.48 L177.36,445.50 L177.74,445.51 L178.13,445.51 L178.53,445.52 L178.93,445.53 L179.34,445.54 L179.75,445.54 L180.18,445.55 L180.60,445.55 L181.04,445.55 L181.48,445.56 L181.92,445.56 L182.37,445.56 L182.83,445.57 L183.30,445.57 L183.76,445.57 L184.24,445.57 L184.72,445.58 L185.21,445.58 L185.70,445.58 L186.20,445.58 L186.70,445.58 L187.21,445.58 L187.72,445.59 L188.24,445.59 L188.77,445.59 L189.30,445.59" fill="none" stroke="#0a6a0a" stroke-width="1.4" stroke-linejoin="round" stroke-linecap="round"/>
<path d="M169.40,438.20 L169.43,438.32 L169.49,438.57 L169.57,438.89 L169.66,439.26 L169.78,439.67 L169.90,440.10 L170.04,440.53 L170.20,440.96 L170.36,441.38 L170.54,441.79 L170.73,442.18 L170.92,442.54 L171.13,442.88 L171.35,443.19 L171.58,443.47 L171.81,443.73 L172.06,443.96 L172.31,444.17 L172.58,444.35 L172.85,444.51 L173.13,444.65 L173.42,444.78 L173.71,444.88 L174.02,444.98 L174.33,445.06 L174.65,445.12 L174.97,445.18 L175.31,445.24 L175.65,445.28 L176.00,445.32 L176.35,445.35 L176.72,445.38 L177.08,445.40 L177.46,445.42 L177.84,445.44 L178.23,445.45 L178.63,445.47 L179.03,445.48 L179.44,445.49 L179.85,445.50 L180.28,445.51 L180.70,445.52 L181.14,445.52 L181.58,445.53 L182.02,445.53 L182.47,445.54 L182.93,445.54 L183.40,445.55 L183.86,445.55 L184.34,445.56 L184.82,445.56 L185.31,445.56 L185.80,445.57 L186.30,445.57 L186.80,445.57 L187.31,445.57 L187.82,445.58 L188.34,445.58 L188.87,445.58 L189.40,445.58" fill="none" stroke="#0000ff" stroke-width="2.0" stroke-linejoin="round" stroke-linecap="round"/>
<path d="M169.30,431.00 L169.33,431.25 L169.39,431.73 L169.47,432.36 L169.56,433.10 L169.68,433.90 L169.80,434.74 L169.94,435.60 L170.10,436.45 L170.26,437.28 L170.44,438.09 L170.63,438.85 L170.82,439.57 L171.03,440.23 L171.25,440.85 L171.48,441.40 L171.71,441.91 L171.96,442.37 L172.21,442.77 L172.48,443.13 L172.75,443.45 L173.03,443.73 L173.32,443.97 L173.61,444.19 L173.92,444.37 L174.23,444.53 L174.55,444.66 L174.87,444.78 L175.21,444.88 L175.55,444.97 L175.90,445.04 L176.25,445.10 L176.62,445.16 L176.98,445.20 L177.36,445.25 L177.74,445.28 L178.13,445.31 L178.53,445.34 L178.93,445.36 L179.34,445.38 L179.75,445.40 L180.18,445.42 L180.60,445.43 L181.04,445.45 L181.48,445.46 L181.92,445.47 L182.37,445.48 L182.83,445.49 L183.30,445.50 L183.76,445.51 L184.24,445.51 L184.72,445.52 L185.21,445.53 L185.70,445.53 L186.20,445.54 L186.70,445.54 L187.21,445.55 L187.72,445.55 L188.24,445.56 L188.77,445.56 L189.30,445.56" fill="none" stroke="#ff1aff" stroke-width="1.4" stroke-linejoin="round" stroke-linecap="round"/>
<path d="M168.30,421.80 L168.33,422.20 L168.39,422.99 L168.47,424.02 L168.56,425.22 L168.68,426.53 L168.80,427.90 L168.94,429.29 L169.10,430.68 L169.26,432.04 L169.44,433.35 L169.63,434.59 L169.82,435.76 L170.03,436.85 L170.25,437.85 L170.48,438.76 L170.71,439.59 L170.96,440.33 L171.21,440.99 L171.48,441.58 L171.75,442.10 L172.03,442.55 L172.32,442.95 L172.61,443.29 L172.92,443.59 L173.23,443.85 L173.55,444.07 L173.87,444.26 L174.21,444.43 L174.55,444.57 L174.90,444.69 L175.25,444.79 L175.62,444.88 L175.98,444.96 L176.36,445.02 L176.74,445.08 L177.13,445.13 L177.53,445.17 L177.93,445.21 L178.34,445.25 L178.75,445.28 L179.18,445.30 L179.60,445.33 L180.04,445.35 L180.48,445.37 L180.92,445.39 L181.37,445.41 L181.83,445.42 L182.30,445.43 L182.76,445.45 L183.24,445.46 L183.72,445.47 L184.21,445.48 L184.70,445.49 L185.20,445.50 L185.70,445.51 L186.21,445.52 L186.72,445.52 L187.24,445.53 L187.77,445.53 L188.30,445.54" fill="none" stroke="#00cdcd" stroke-width="1.9" stroke-linejoin="round" stroke-linecap="round"/>
<path d="M169.30,398.50 L169.33,399.29 L169.39,400.86 L169.47,402.90 L169.56,405.27 L169.68,407.86 L169.80,410.57 L169.94,413.33 L170.10,416.08 L170.26,418.77 L170.44,421.36 L170.63,423.82 L170.82,426.13 L171.03,428.28 L171.25,430.26 L171.48,432.07 L171.71,433.70 L171.96,435.17 L172.21,436.48 L172.48,437.64 L172.75,438.67 L173.03,439.57 L173.32,440.35 L173.61,441.04 L173.92,441.63 L174.23,442.14 L174.55,442.58 L174.87,442.95 L175.21,443.28 L175.55,443.55 L175.90,443.79 L176.25,444.00 L176.62,444.17 L176.98,444.32 L177.36,444.46 L177.74,444.57 L178.13,444.67 L178.53,444.75 L178.93,444.83 L179.34,444.90 L179.75,444.96 L180.18,445.01 L180.60,445.06 L181.04,445.11 L181.48,445.15 L181.92,445.18 L182.37,445.21 L182.83,445.25 L183.30,445.27 L183.76,445.30 L184.24,445.32 L184.72,445.34 L185.21,445.37 L185.70,445.38 L186.20,445.40 L186.70,445.42 L187.21,445.43 L187.72,445.45 L188.24,445.46 L188.77,445.47 L189.30,445.48" fill="none" stroke="#daa520" stroke-width="1.4" stroke-linejoin="round" stroke-linecap="round"/>
<path d="M169.70,369.00 L169.73,370.29 L169.79,372.83 L169.87,376.16 L169.96,380.01 L170.08,384.22 L170.20,388.63 L170.34,393.12 L170.50,397.59 L170.66,401.96 L170.84,406.18 L171.03,410.18 L171.22,413.94 L171.43,417.44 L171.65,420.65 L171.88,423.59 L172.11,426.25 L172.36,428.64 L172.61,430.77 L172.88,432.66 L173.15,434.33 L173.43,435.79 L173.72,437.07 L174.01,438.18 L174.32,439.14 L174.63,439.97 L174.95,440.68 L175.27,441.30 L175.61,441.82 L175.95,442.27 L176.30,442.66 L176.65,442.99 L177.02,443.28 L177.38,443.53 L177.76,443.74 L178.14,443.92 L178.53,444.08 L178.93,444.23 L179.33,444.35 L179.74,444.46 L180.15,444.56 L180.58,444.65 L181.00,444.72 L181.44,444.80 L181.88,444.86 L182.32,444.92 L182.77,444.97 L183.23,445.02 L183.70,445.07 L184.16,445.11 L184.64,445.15 L185.12,445.19 L185.61,445.22 L186.10,445.25 L186.60,445.28 L187.10,445.30 L187.61,445.33 L188.12,445.35 L188.64,445.37 L189.17,445.39 L189.70,445.41" fill="none" stroke="#960a96" stroke-width="1.5" stroke-linejoin="round" stroke-linecap="round"/>
<path d="M170.00,329.50 L170.03,331.45 L170.09,335.31 L170.17,340.35 L170.26,346.19 L170.38,352.57 L170.50,359.25 L170.64,366.05 L170.80,372.83 L170.96,379.46 L171.14,385.85 L171.33,391.91 L171.52,397.61 L171.73,402.91 L171.95,407.79 L172.18,412.24 L172.41,416.27 L172.66,419.89 L172.91,423.12 L173.18,425.99 L173.45,428.52 L173.73,430.73 L174.02,432.67 L174.31,434.35 L174.62,435.81 L174.93,437.06 L175.25,438.15 L175.57,439.08 L175.91,439.87 L176.25,440.56 L176.60,441.15 L176.95,441.65 L177.32,442.08 L177.68,442.46 L178.06,442.78 L178.44,443.06 L178.83,443.30 L179.23,443.52 L179.63,443.70 L180.04,443.87 L180.45,444.02 L180.88,444.15 L181.30,444.27 L181.74,444.38 L182.18,444.48 L182.62,444.57 L183.07,444.65 L183.53,444.72 L184.00,444.79 L184.46,444.86 L184.94,444.92 L185.42,444.97 L185.91,445.02 L186.40,445.07 L186.90,445.11 L187.40,445.15 L187.91,445.19 L188.42,445.22 L188.94,445.25 L189.47,445.28 L190.00,445.31" fill="none" stroke="#32cd32" stroke-width="1.8" stroke-linejoin="round" stroke-linecap="round"/>
<path d="M183.00,445.41 L184.60,445.26 L186.20,445.29 L187.80,445.33 L189.40,445.22 L191.00,445.13 L192.60,445.27 L194.20,445.54 L195.80,445.66 L197.40,445.62 L199.00,445.66 L200.60,445.79 L202.20,445.79 L203.80,445.57 L205.40,445.35 L207.00,445.34 L208.60,445.38 L210.20,445.27 L211.80,445.14 L213.40,445.19 L215.00,445.34 L216.60,445.32 L218.20,445.13 L219.80,445.01 L221.40,445.02 L223.00,444.95 L224.60,444.69 L226.20,444.46 L227.80,444.48 L229.40,444.58 L231.00,444.55 L232.60,444.45 L234.20,444.50 L235.80,444.64 L237.40,444.61 L239.00,444.38 L240.60,444.21 L242.20,444.25 L243.80,444.29 L245.40,444.21 L247.00,444.15 L248.60,444.31 L250.20,444.53 L251.80,444.55 L253.40,444.41 L255.00,444.36 L256.60,444.41 L258.20,444.35 L259.80,444.14 L261.40,444.08 L263.00,444.29 L264.60,444.58 L266.20,444.72 L267.80,444.81 L269.40,445.03 L271.00,445.26 L272.60,445.23 L274.20,445.08 L275.80,445.09 L277.40,445.30 L279.00,445.49 L280.60,445.54 L282.20,445.65 L283.80,445.93 L285.40,446.17 L287.00,446.19 L288.60,446.11 L290.20,446.15 L291.80,446.26 L293.40,446.21 L295.00,446.02 L296.60,445.96 L298.20,446.12 L299.80,446.29 L301.40,446.30 L303.00,446.34 L304.60,446.55 L306.20,446.75 L307.80,446.71 L309.40,446.52 L311.00,446.45 L312.60,446.49 L314.20,446.44 L315.80,446.27 L317.40,446.24 L319.00,446.44 L320.60,446.63 L322.20,446.62 L323.80,446.56 L325.40,446.64 L327.00,446.72 L328.60,446.60 L330.20,446.36 L331.80,446.28 L333.40,446.38 L335.00,446.44 L336.60,446.37 L338.20,446.39 L338.80,446.50" fill="none" stroke="#32cd32" stroke-width="1.8" stroke-linejoin="round" stroke-linecap="round"/>
<line x1="385.20" y1="280.10" x2="385.20" y2="473.10" stroke="#111" stroke-width="1.7" stroke-linecap="butt"/>
<line x1="382.70" y1="472.30" x2="673.10" y2="472.30" stroke="#111" stroke-width="1.7" stroke-linecap="butt"/>
<line x1="382.40" y1="281.10" x2="386.10" y2="281.10" stroke="#111" stroke-width="2.2" stroke-linecap="butt"/>
<text x="378.20" y="284.40" font-size="10.8" text-anchor="end" >50</text>
<line x1="382.40" y1="313.30" x2="386.10" y2="313.30" stroke="#111" stroke-width="2.2" stroke-linecap="butt"/>
<text x="378.20" y="316.60" font-size="10.8" text-anchor="end" >40</text>
<line x1="382.40" y1="345.50" x2="386.10" y2="345.50" stroke="#111" stroke-width="2.2" stroke-linecap="butt"/>
<text x="378.20" y="348.80" font-size="10.8" text-anchor="end" >30</text>
<line x1="382.40" y1="377.70" x2="386.10" y2="377.70" stroke="#111" stroke-width="2.2" stroke-linecap="butt"/>
<text x="378.20" y="381.00" font-size="10.8" text-anchor="end" >20</text>
<line x1="382.40" y1="409.90" x2="386.10" y2="409.90" stroke="#111" stroke-width="2.2" stroke-linecap="butt"/>
<text x="378.20" y="413.20" font-size="10.8" text-anchor="end" >10</text>
<line x1="382.40" y1="442.10" x2="386.10" y2="442.10" stroke="#111" stroke-width="2.2" stroke-linecap="butt"/>
<text x="375.40" y="445.40" font-size="10.8" text-anchor="end" >0</text>
<line x1="410.20" y1="472.00" x2="410.20" y2="475.40" stroke="#111" stroke-width="2.3" stroke-linecap="butt"/>
<text x="410.50" y="488.00" font-size="10.8" text-anchor="middle" >0</text>
<line x1="462.60" y1="472.00" x2="462.60" y2="475.40" stroke="#111" stroke-width="2.3" stroke-linecap="butt"/>
<text x="462.90" y="488.00" font-size="10.8" text-anchor="middle" >100</text>
<line x1="515.00" y1="472.00" x2="515.00" y2="475.40" stroke="#111" stroke-width="2.3" stroke-linecap="butt"/>
<text x="515.30" y="488.00" font-size="10.8" text-anchor="middle" >200</text>
<line x1="567.40" y1="472.00" x2="567.40" y2="475.40" stroke="#111" stroke-width="2.3" stroke-linecap="butt"/>
<text x="567.70" y="488.00" font-size="10.8" text-anchor="middle" >300</text>
<line x1="619.80" y1="472.00" x2="619.80" y2="475.40" stroke="#111" stroke-width="2.3" stroke-linecap="butt"/>
<text x="620.10" y="488.00" font-size="10.8" text-anchor="middle" >400</text>
<line x1="672.20" y1="472.00" x2="672.20" y2="475.40" stroke="#111" stroke-width="2.3" stroke-linecap="butt"/>
<text x="672.50" y="488.00" font-size="10.8" text-anchor="middle" >500</text>
<text transform="translate(351.00,362.20) rotate(-90)" font-size="12.3" text-anchor="middle" dy="0.33em">RU</text>
<text x="543.70" y="505.80" font-size="12.4" text-anchor="middle" >Time (s)</text>
<text x="335.4" y="289.9" font-size="18">d)</text>
<path d="M385.60,442.80 L392.00,443.20 L398.00,443.40 L404.00,442.60 L410.60,442.20" fill="none" stroke="#0a6a0a" stroke-width="1.2" stroke-linejoin="round" stroke-linecap="round"/>
<path d="M385.60,442.20 L395.00,442.50 L410.60,442.20" fill="none" stroke="#daa520" stroke-width="1.2" stroke-linejoin="round" stroke-linecap="round"/>
<path d="M385.60,441.60 L395.00,441.80 L410.60,441.80" fill="none" stroke="#960a96" stroke-width="1.9" stroke-linejoin="round" stroke-linecap="round"/>
<path d="M411.25,441.90 L412.80,441.70 L414.36,441.50 L415.91,441.31 L417.47,441.11 L419.02,440.91 L420.58,440.71 L422.13,440.52 L423.68,440.32 L425.24,440.12 L426.79,439.93 L428.35,439.73 L429.90,439.53 L431.46,439.34 L433.01,439.14 L434.57,438.95 L436.12,438.75 L437.68,438.56 L439.23,438.36 L440.78,438.17 L442.34,437.98 L443.89,437.78 L445.45,437.59 L447.00,437.39 L448.56,437.20 L450.11,437.01 L451.67,436.82 L453.22,436.62 L454.77,436.43 L456.33,436.24 L457.88,436.05 L459.44,435.86 L460.99,435.66 L462.55,435.47 L464.10,435.28 L465.66,435.09 L467.21,434.90 L468.77,434.71 L470.32,434.52 L471.87,434.33 L473.43,434.14 L474.98,433.95 L476.54,433.76 L478.09,433.58 L479.65,433.39 L481.20,433.20 L482.76,433.01 L484.31,432.82 L485.87,432.63 L487.42,432.45 L488.97,432.26 L490.53,432.07 L492.08,431.89 L493.64,431.70 L495.19,431.51 L496.75,431.33 L498.30,431.14 L499.86,430.96 L501.41,430.77 L502.97,430.59 L504.52,430.40" fill="none" stroke="#ff1010" stroke-width="1.3" stroke-linejoin="round" stroke-linecap="butt"/>
<path d="M411.25,441.90 L412.80,441.68 L414.36,441.47 L415.91,441.25 L417.47,441.03 L419.02,440.82 L420.58,440.60 L422.13,440.38 L423.68,440.17 L425.24,439.95 L426.79,439.74 L428.35,439.52 L429.90,439.31 L431.46,439.10 L433.01,438.88 L434.57,438.67 L436.12,438.46 L437.68,438.24 L439.23,438.03 L440.78,437.82 L442.34,437.61 L443.89,437.40 L445.45,437.19 L447.00,436.98 L448.56,436.77 L450.11,436.56 L451.67,436.35 L453.22,436.14 L454.77,435.93 L456.33,435.72 L457.88,435.51 L459.44,435.30 L460.99,435.10 L462.55,434.89 L464.10,434.68 L465.66,434.47 L467.21,434.27 L468.77,434.06 L470.32,433.85 L471.87,433.65 L473.43,433.44 L474.98,433.24 L476.54,433.03 L478.09,432.83 L479.65,432.63 L481.20,432.42 L482.76,432.22 L484.31,432.01 L485.87,431.81 L487.42,431.61 L488.97,431.41 L490.53,431.20 L492.08,431.00 L493.64,430.80 L495.19,430.60 L496.75,430.40 L498.30,430.20 L499.86,430.00 L501.41,429.80 L502.97,429.60 L504.52,429.40" fill="none" stroke="#ff1010" stroke-width="1.4" stroke-linejoin="round" stroke-linecap="butt"/>
<path d="M411.25,441.90 L412.80,441.66 L414.36,441.42 L415.91,441.18 L417.47,440.95 L419.02,440.71 L420.58,440.47 L422.13,440.24 L423.68,440.00 L425.24,439.77 L426.79,439.53 L428.35,439.30 L429.90,439.06 L431.46,438.83 L433.01,438.60 L434.57,438.37 L436.12,438.13 L437.68,437.90 L439.23,437.67 L440.78,437.44 L442.34,437.21 L443.89,436.98 L445.45,436.75 L447.00,436.53 L448.56,436.30 L450.11,436.07 L451.67,435.84 L453.22,435.62 L454.77,435.39 L456.33,435.16 L457.88,434.94 L459.44,434.72 L460.99,434.49 L462.55,434.27 L464.10,434.04 L465.66,433.82 L467.21,433.60 L468.77,433.38 L470.32,433.16 L471.87,432.93 L473.43,432.71 L474.98,432.49 L476.54,432.27 L478.09,432.06 L479.65,431.84 L481.20,431.62 L482.76,431.40 L484.31,431.18 L485.87,430.97 L487.42,430.75 L488.97,430.53 L490.53,430.32 L492.08,430.10 L493.64,429.89 L495.19,429.68 L496.75,429.46 L498.30,429.25 L499.86,429.04 L501.41,428.82 L502.97,428.61 L504.52,428.40" fill="none" stroke="#ff1010" stroke-width="1.3" stroke-linejoin="round" stroke-linecap="butt"/>
<path d="M411.25,441.90 L412.80,441.52 L414.36,441.13 L415.91,440.75 L417.47,440.37 L419.02,439.98 L420.58,439.60 L422.13,439.22 L423.68,438.84 L425.24,438.46 L426.79,438.09 L428.35,437.71 L429.90,437.33 L431.46,436.95 L433.01,436.58 L434.57,436.20 L436.12,435.83 L437.68,435.46 L439.23,435.08 L440.78,434.71 L442.34,434.34 L443.89,433.97 L445.45,433.60 L447.00,433.23 L448.56,432.86 L450.11,432.49 L451.67,432.12 L453.22,431.76 L454.77,431.39 L456.33,431.02 L457.88,430.66 L459.44,430.29 L460.99,429.93 L462.55,429.57 L464.10,429.20 L465.66,428.84 L467.21,428.48 L468.77,428.12 L470.32,427.76 L471.87,427.40 L473.43,427.04 L474.98,426.68 L476.54,426.33 L478.09,425.97 L479.65,425.61 L481.20,425.26 L482.76,424.90 L484.31,424.55 L485.87,424.19 L487.42,423.84 L488.97,423.49 L490.53,423.14 L492.08,422.79 L493.64,422.44 L495.19,422.09 L496.75,421.74 L498.30,421.39 L499.86,421.04 L501.41,420.69 L502.97,420.35 L504.52,420.00" fill="none" stroke="#0a6a0a" stroke-width="1.3" stroke-linejoin="round" stroke-linecap="butt"/>
<path d="M411.25,441.90 L412.80,441.49 L414.36,441.08 L415.91,440.67 L417.47,440.26 L419.02,439.85 L420.58,439.44 L422.13,439.03 L423.68,438.63 L425.24,438.22 L426.79,437.82 L428.35,437.42 L429.90,437.01 L431.46,436.61 L433.01,436.21 L434.57,435.81 L436.12,435.41 L437.68,435.02 L439.23,434.62 L440.78,434.23 L442.34,433.83 L443.89,433.44 L445.45,433.05 L447.00,432.65 L448.56,432.26 L450.11,431.87 L451.67,431.49 L453.22,431.10 L454.77,430.71 L456.33,430.32 L457.88,429.94 L459.44,429.55 L460.99,429.17 L462.55,428.79 L464.10,428.41 L465.66,428.03 L467.21,427.65 L468.77,427.27 L470.32,426.89 L471.87,426.51 L473.43,426.14 L474.98,425.76 L476.54,425.39 L478.09,425.01 L479.65,424.64 L481.20,424.27 L482.76,423.90 L484.31,423.53 L485.87,423.16 L487.42,422.79 L488.97,422.43 L490.53,422.06 L492.08,421.69 L493.64,421.33 L495.19,420.96 L496.75,420.60 L498.30,420.24 L499.86,419.88 L501.41,419.52 L502.97,419.16 L504.52,418.80" fill="none" stroke="#0a6a0a" stroke-width="1.3" stroke-linejoin="round" stroke-linecap="butt"/>
<path d="M411.25,441.90 L412.80,441.45 L414.36,441.01 L415.91,440.57 L417.47,440.13 L419.02,439.69 L420.58,439.25 L422.13,438.81 L423.68,438.38 L425.24,437.94 L426.79,437.51 L428.35,437.08 L429.90,436.65 L431.46,436.22 L433.01,435.80 L434.57,435.37 L436.12,434.95 L437.68,434.53 L439.23,434.10 L440.78,433.68 L442.34,433.27 L443.89,432.85 L445.45,432.43 L447.00,432.02 L448.56,431.61 L450.11,431.19 L451.67,430.78 L453.22,430.37 L454.77,429.97 L456.33,429.56 L457.88,429.16 L459.44,428.75 L460.99,428.35 L462.55,427.95 L464.10,427.55 L465.66,427.15 L467.21,426.75 L468.77,426.36 L470.32,425.96 L471.87,425.57 L473.43,425.18 L474.98,424.79 L476.54,424.40 L478.09,424.01 L479.65,423.62 L481.20,423.24 L482.76,422.85 L484.31,422.47 L485.87,422.09 L487.42,421.71 L488.97,421.33 L490.53,420.95 L492.08,420.57 L493.64,420.20 L495.19,419.82 L496.75,419.45 L498.30,419.08 L499.86,418.71 L501.41,418.34 L502.97,417.97 L504.52,417.60" fill="none" stroke="#0a6a0a" stroke-width="1.3" stroke-linejoin="round" stroke-linecap="butt"/>
<path d="M411.25,441.90 L412.80,441.18 L414.36,440.47 L415.91,439.76 L417.47,439.05 L419.02,438.35 L420.58,437.65 L422.13,436.95 L423.68,436.25 L425.24,435.56 L426.79,434.86 L428.35,434.17 L429.90,433.48 L431.46,432.80 L433.01,432.12 L434.57,431.44 L436.12,430.76 L437.68,430.08 L439.23,429.41 L440.78,428.74 L442.34,428.07 L443.89,427.41 L445.45,426.74 L447.00,426.08 L448.56,425.42 L450.11,424.77 L451.67,424.11 L453.22,423.46 L454.77,422.81 L456.33,422.16 L457.88,421.52 L459.44,420.88 L460.99,420.23 L462.55,419.60 L464.10,418.96 L465.66,418.33 L467.21,417.70 L468.77,417.07 L470.32,416.44 L471.87,415.82 L473.43,415.19 L474.98,414.57 L476.54,413.96 L478.09,413.34 L479.65,412.73 L481.20,412.11 L482.76,411.51 L484.31,410.90 L485.87,410.29 L487.42,409.69 L488.97,409.09 L490.53,408.49 L492.08,407.90 L493.64,407.30 L495.19,406.71 L496.75,406.12 L498.30,405.53 L499.86,404.94 L501.41,404.36 L502.97,403.78 L504.52,403.20" fill="none" stroke="#0000ff" stroke-width="1.3" stroke-linejoin="round" stroke-linecap="butt"/>
<path d="M411.25,441.90 L412.80,441.10 L414.36,440.32 L415.91,439.53 L417.47,438.75 L419.02,437.98 L420.58,437.21 L422.13,436.44 L423.68,435.68 L425.24,434.93 L426.79,434.18 L428.35,433.43 L429.90,432.69 L431.46,431.96 L433.01,431.23 L434.57,430.50 L436.12,429.78 L437.68,429.07 L439.23,428.35 L440.78,427.65 L442.34,426.94 L443.89,426.25 L445.45,425.55 L447.00,424.86 L448.56,424.18 L450.11,423.50 L451.67,422.83 L453.22,422.15 L454.77,421.49 L456.33,420.83 L457.88,420.17 L459.44,419.51 L460.99,418.86 L462.55,418.22 L464.10,417.58 L465.66,416.94 L467.21,416.31 L468.77,415.68 L470.32,415.06 L471.87,414.44 L473.43,413.82 L474.98,413.21 L476.54,412.60 L478.09,411.99 L479.65,411.39 L481.20,410.80 L482.76,410.20 L484.31,409.62 L485.87,409.03 L487.42,408.45 L488.97,407.87 L490.53,407.30 L492.08,406.73 L493.64,406.16 L495.19,405.60 L496.75,405.04 L498.30,404.49 L499.86,403.93 L501.41,403.39 L502.97,402.84 L504.52,402.30" fill="none" stroke="#0000ff" stroke-width="1.4" stroke-linejoin="round" stroke-linecap="butt"/>
<path d="M411.25,441.90 L412.80,441.02 L414.36,440.15 L415.91,439.28 L417.47,438.42 L419.02,437.58 L420.58,436.74 L422.13,435.90 L423.68,435.08 L425.24,434.26 L426.79,433.45 L428.35,432.65 L429.90,431.86 L431.46,431.07 L433.01,430.29 L434.57,429.52 L436.12,428.76 L437.68,428.00 L439.23,427.25 L440.78,426.51 L442.34,425.77 L443.89,425.04 L445.45,424.32 L447.00,423.61 L448.56,422.90 L450.11,422.20 L451.67,421.50 L453.22,420.81 L454.77,420.13 L456.33,419.45 L457.88,418.79 L459.44,418.12 L460.99,417.47 L462.55,416.82 L464.10,416.17 L465.66,415.53 L467.21,414.90 L468.77,414.28 L470.32,413.66 L471.87,413.04 L473.43,412.43 L474.98,411.83 L476.54,411.23 L478.09,410.64 L479.65,410.06 L481.20,409.47 L482.76,408.90 L484.31,408.33 L485.87,407.77 L487.42,407.21 L488.97,406.65 L490.53,406.11 L492.08,405.56 L493.64,405.03 L495.19,404.49 L496.75,403.96 L498.30,403.44 L499.86,402.92 L501.41,402.41 L502.97,401.90 L504.52,401.40" fill="none" stroke="#0000ff" stroke-width="1.3" stroke-linejoin="round" stroke-linecap="butt"/>
<path d="M411.25,441.90 L412.80,440.42 L414.36,438.96 L415.91,437.51 L417.47,436.08 L419.02,434.67 L420.58,433.28 L422.13,431.90 L423.68,430.54 L425.24,429.19 L426.79,427.86 L428.35,426.55 L429.90,425.25 L431.46,423.97 L433.01,422.70 L434.57,421.44 L436.12,420.20 L437.68,418.98 L439.23,417.77 L440.78,416.58 L442.34,415.39 L443.89,414.23 L445.45,413.07 L447.00,411.93 L448.56,410.81 L450.11,409.69 L451.67,408.59 L453.22,407.51 L454.77,406.43 L456.33,405.37 L457.88,404.32 L459.44,403.29 L460.99,402.26 L462.55,401.25 L464.10,400.25 L465.66,399.26 L467.21,398.28 L468.77,397.32 L470.32,396.36 L471.87,395.42 L473.43,394.49 L474.98,393.57 L476.54,392.66 L478.09,391.76 L479.65,390.87 L481.20,389.99 L482.76,389.13 L484.31,388.27 L485.87,387.42 L487.42,386.58 L488.97,385.76 L490.53,384.94 L492.08,384.13 L493.64,383.33 L495.19,382.54 L496.75,381.76 L498.30,380.99 L499.86,380.23 L501.41,379.48 L502.97,378.73 L504.52,378.00" fill="none" stroke="#ff1aff" stroke-width="1.7" stroke-linejoin="round" stroke-linecap="butt"/>
<path d="M411.25,441.90 L412.80,440.28 L414.36,438.68 L415.91,437.11 L417.47,435.55 L419.02,434.01 L420.58,432.49 L422.13,430.99 L423.68,429.50 L425.24,428.04 L426.79,426.59 L428.35,425.16 L429.90,423.75 L431.46,422.36 L433.01,420.98 L434.57,419.62 L436.12,418.28 L437.68,416.96 L439.23,415.65 L440.78,414.35 L442.34,413.08 L443.89,411.82 L445.45,410.57 L447.00,409.34 L448.56,408.12 L450.11,406.92 L451.67,405.74 L453.22,404.57 L454.77,403.41 L456.33,402.27 L457.88,401.14 L459.44,400.03 L460.99,398.93 L462.55,397.85 L464.10,396.77 L465.66,395.71 L467.21,394.67 L468.77,393.63 L470.32,392.61 L471.87,391.61 L473.43,390.61 L474.98,389.63 L476.54,388.66 L478.09,387.70 L479.65,386.75 L481.20,385.82 L482.76,384.89 L484.31,383.98 L485.87,383.08 L487.42,382.19 L488.97,381.31 L490.53,380.44 L492.08,379.59 L493.64,378.74 L495.19,377.90 L496.75,377.08 L498.30,376.26 L499.86,375.46 L501.41,374.66 L502.97,373.88 L504.52,373.10" fill="none" stroke="#ff1aff" stroke-width="1.7" stroke-linejoin="round" stroke-linecap="butt"/>
<path d="M411.25,441.90 L412.80,439.54 L414.36,437.22 L415.91,434.93 L417.47,432.69 L419.02,430.48 L420.58,428.31 L422.13,426.17 L423.68,424.08 L425.24,422.01 L426.79,419.98 L428.35,417.99 L429.90,416.03 L431.46,414.10 L433.01,412.20 L434.57,410.34 L436.12,408.51 L437.68,406.70 L439.23,404.93 L440.78,403.19 L442.34,401.48 L443.89,399.79 L445.45,398.14 L447.00,396.51 L448.56,394.91 L450.11,393.33 L451.67,391.79 L453.22,390.26 L454.77,388.77 L456.33,387.30 L457.88,385.85 L459.44,384.43 L460.99,383.03 L462.55,381.65 L464.10,380.30 L465.66,378.97 L467.21,377.67 L468.77,376.38 L470.32,375.12 L471.87,373.87 L473.43,372.65 L474.98,371.45 L476.54,370.27 L478.09,369.11 L479.65,367.97 L481.20,366.85 L482.76,365.74 L484.31,364.66 L485.87,363.59 L487.42,362.54 L488.97,361.51 L490.53,360.50 L492.08,359.50 L493.64,358.52 L495.19,357.55 L496.75,356.61 L498.30,355.67 L499.86,354.76 L501.41,353.86 L502.97,352.97 L504.52,352.10" fill="none" stroke="#00cdcd" stroke-width="1.6" stroke-linejoin="round" stroke-linecap="butt"/>
<path d="M411.25,441.90 L412.80,439.28 L414.36,436.71 L415.91,434.19 L417.47,431.70 L419.02,429.26 L420.58,426.86 L422.13,424.50 L423.68,422.19 L425.24,419.91 L426.79,417.67 L428.35,415.47 L429.90,413.30 L431.46,411.17 L433.01,409.08 L434.57,407.03 L436.12,405.01 L437.68,403.02 L439.23,401.07 L440.78,399.15 L442.34,397.27 L443.89,395.41 L445.45,393.59 L447.00,391.80 L448.56,390.04 L450.11,388.31 L451.67,386.61 L453.22,384.93 L454.77,383.29 L456.33,381.68 L457.88,380.09 L459.44,378.53 L460.99,376.99 L462.55,375.49 L464.10,374.00 L465.66,372.55 L467.21,371.11 L468.77,369.71 L470.32,368.32 L471.87,366.96 L473.43,365.63 L474.98,364.31 L476.54,363.02 L478.09,361.75 L479.65,360.50 L481.20,359.28 L482.76,358.07 L484.31,356.89 L485.87,355.72 L487.42,354.58 L488.97,353.45 L490.53,352.34 L492.08,351.26 L493.64,350.19 L495.19,349.14 L496.75,348.11 L498.30,347.09 L499.86,346.09 L501.41,345.11 L502.97,344.15 L504.52,343.20" fill="none" stroke="#00cdcd" stroke-width="1.6" stroke-linejoin="round" stroke-linecap="butt"/>
<path d="M411.25,441.90 L412.80,437.64 L414.36,433.53 L415.91,429.54 L417.47,425.69 L419.02,421.96 L420.58,418.36 L422.13,414.87 L423.68,411.50 L425.24,408.24 L426.79,405.08 L428.35,402.03 L429.90,399.07 L431.46,396.22 L433.01,393.45 L434.57,390.78 L436.12,388.20 L437.68,385.69 L439.23,383.27 L440.78,380.93 L442.34,378.67 L443.89,376.48 L445.45,374.36 L447.00,372.31 L448.56,370.33 L450.11,368.41 L451.67,366.56 L453.22,364.76 L454.77,363.03 L456.33,361.35 L457.88,359.73 L459.44,358.16 L460.99,356.64 L462.55,355.17 L464.10,353.74 L465.66,352.37 L467.21,351.04 L468.77,349.75 L470.32,348.51 L471.87,347.30 L473.43,346.14 L474.98,345.01 L476.54,343.92 L478.09,342.87 L479.65,341.85 L481.20,340.86 L482.76,339.91 L484.31,338.98 L485.87,338.09 L487.42,337.23 L488.97,336.39 L490.53,335.58 L492.08,334.80 L493.64,334.05 L495.19,333.31 L496.75,332.61 L498.30,331.92 L499.86,331.26 L501.41,330.62 L502.97,330.00 L504.52,329.40" fill="none" stroke="#daa520" stroke-width="1.6" stroke-linejoin="round" stroke-linecap="butt"/>
<path d="M411.25,441.90 L412.80,437.22 L414.36,432.69 L415.91,428.31 L417.47,424.08 L419.02,419.99 L420.58,416.03 L422.13,412.20 L423.68,408.50 L425.24,404.92 L426.79,401.45 L428.35,398.11 L429.90,394.87 L431.46,391.74 L433.01,388.71 L434.57,385.78 L436.12,382.95 L437.68,380.21 L439.23,377.57 L440.78,375.00 L442.34,372.53 L443.89,370.13 L445.45,367.82 L447.00,365.58 L448.56,363.41 L450.11,361.32 L451.67,359.30 L453.22,357.34 L454.77,355.44 L456.33,353.61 L457.88,351.84 L459.44,350.13 L460.99,348.47 L462.55,346.87 L464.10,345.32 L465.66,343.83 L467.21,342.38 L468.77,340.98 L470.32,339.62 L471.87,338.31 L473.43,337.05 L474.98,335.82 L476.54,334.64 L478.09,333.49 L479.65,332.39 L481.20,331.31 L482.76,330.28 L484.31,329.28 L485.87,328.31 L487.42,327.37 L488.97,326.47 L490.53,325.59 L492.08,324.74 L493.64,323.93 L495.19,323.13 L496.75,322.37 L498.30,321.63 L499.86,320.91 L501.41,320.22 L502.97,319.55 L504.52,318.90" fill="none" stroke="#daa520" stroke-width="1.6" stroke-linejoin="round" stroke-linecap="butt"/>
<path d="M411.25,441.90 L412.80,435.69 L414.36,429.77 L415.91,424.12 L417.47,418.73 L419.02,413.60 L420.58,408.70 L422.13,404.03 L423.68,399.57 L425.24,395.32 L426.79,391.27 L428.35,387.41 L429.90,383.73 L431.46,380.21 L433.01,376.86 L434.57,373.67 L436.12,370.62 L437.68,367.71 L439.23,364.94 L440.78,362.30 L442.34,359.78 L443.89,357.38 L445.45,355.08 L447.00,352.90 L448.56,350.81 L450.11,348.83 L451.67,346.93 L453.22,345.12 L454.77,343.40 L456.33,341.76 L457.88,340.19 L459.44,338.69 L460.99,337.27 L462.55,335.91 L464.10,334.61 L465.66,333.37 L467.21,332.19 L468.77,331.07 L470.32,330.00 L471.87,328.97 L473.43,328.00 L474.98,327.07 L476.54,326.18 L478.09,325.34 L479.65,324.53 L481.20,323.76 L482.76,323.03 L484.31,322.33 L485.87,321.66 L487.42,321.02 L488.97,320.42 L490.53,319.84 L492.08,319.29 L493.64,318.76 L495.19,318.26 L496.75,317.78 L498.30,317.32 L499.86,316.89 L501.41,316.47 L502.97,316.08 L504.52,315.70" fill="none" stroke="#960a96" stroke-width="1.6" stroke-linejoin="round" stroke-linecap="butt"/>
<path d="M411.25,441.90 L412.80,435.23 L414.36,428.86 L415.91,422.80 L417.47,417.01 L419.02,411.49 L420.58,406.23 L422.13,401.21 L423.68,396.42 L425.24,391.86 L426.79,387.50 L428.35,383.35 L429.90,379.39 L431.46,375.62 L433.01,372.02 L434.57,368.58 L436.12,365.31 L437.68,362.19 L439.23,359.21 L440.78,356.37 L442.34,353.66 L443.89,351.08 L445.45,348.62 L447.00,346.27 L448.56,344.03 L450.11,341.89 L451.67,339.86 L453.22,337.91 L454.77,336.06 L456.33,334.30 L457.88,332.61 L459.44,331.00 L460.99,329.47 L462.55,328.01 L464.10,326.62 L465.66,325.29 L467.21,324.02 L468.77,322.81 L470.32,321.66 L471.87,320.56 L473.43,319.52 L474.98,318.52 L476.54,317.56 L478.09,316.65 L479.65,315.79 L481.20,314.96 L482.76,314.17 L484.31,313.42 L485.87,312.70 L487.42,312.02 L488.97,311.37 L490.53,310.75 L492.08,310.15 L493.64,309.59 L495.19,309.05 L496.75,308.53 L498.30,308.04 L499.86,307.58 L501.41,307.13 L502.97,306.71 L504.52,306.30" fill="none" stroke="#960a96" stroke-width="1.6" stroke-linejoin="round" stroke-linecap="butt"/>
<path d="M505.20,428.50 L505.32,428.50 L505.60,428.51 L505.99,428.51 L506.48,428.52 L507.08,428.52 L507.76,428.53 L508.53,428.53 L509.37,428.53 L510.30,428.53 L511.30,428.53 L512.37,428.52 L513.52,428.52 L514.73,428.52 L516.01,428.51 L517.35,428.51 L518.76,428.50 L520.23,428.50 L521.77,428.49 L523.36,428.49 L525.02,428.49 L526.73,428.48 L528.50,428.48 L530.33,428.48 L532.22,428.47 L534.16,428.47 L536.15,428.47 L538.21,428.47 L540.31,428.47 L542.47,428.47 L544.68,428.47 L546.94,428.47 L549.26,428.47 L551.62,428.47 L554.04,428.47 L556.51,428.48 L559.02,428.48 L561.59,428.49 L564.21,428.50 L566.87,428.51 L569.58,428.52 L572.34,428.53 L575.15,428.54 L578.01,428.55 L580.91,428.57 L583.86,428.58 L586.85,428.60 L589.89,428.62 L592.98,428.64 L596.11,428.66 L599.28,428.68 L602.51,428.71 L605.77,428.74 L609.08,428.77 L612.44,428.80 L615.83,428.83 L619.27,428.86 L622.76,428.90 L626.29,428.94 L629.86,428.98 L633.47,429.03 L637.13,429.07 L640.82,429.12 L644.56,429.17 L648.34,429.22 L652.17,429.28 L656.03,429.34 L659.94,429.40 L663.88,429.46 L667.87,429.53 L671.90,429.60" fill="none" stroke="#ff1010" stroke-width="1.4" stroke-linejoin="round" stroke-linecap="butt"/>
<path d="M505.20,426.40 L505.32,426.40 L505.60,426.40 L505.99,426.41 L506.48,426.41 L507.08,426.41 L507.76,426.42 L508.53,426.42 L509.37,426.42 L510.30,426.42 L511.30,426.42 L512.37,426.42 L513.52,426.41 L514.73,426.41 L516.01,426.41 L517.35,426.41 L518.76,426.40 L520.23,426.40 L521.77,426.40 L523.36,426.39 L525.02,426.39 L526.73,426.39 L528.50,426.39 L530.33,426.38 L532.22,426.38 L534.16,426.38 L536.15,426.38 L538.21,426.38 L540.31,426.38 L542.47,426.38 L544.68,426.38 L546.94,426.38 L549.26,426.38 L551.62,426.38 L554.04,426.38 L556.51,426.39 L559.02,426.39 L561.59,426.39 L564.21,426.40 L566.87,426.40 L569.58,426.41 L572.34,426.42 L575.15,426.42 L578.01,426.43 L580.91,426.44 L583.86,426.45 L586.85,426.46 L589.89,426.47 L592.98,426.49 L596.11,426.50 L599.28,426.52 L602.51,426.53 L605.77,426.55 L609.08,426.57 L612.44,426.59 L615.83,426.61 L619.27,426.63 L622.76,426.66 L626.29,426.68 L629.86,426.71 L633.47,426.73 L637.13,426.76 L640.82,426.79 L644.56,426.83 L648.34,426.86 L652.17,426.90 L656.03,426.93 L659.94,426.97 L663.88,427.01 L667.87,427.06 L671.90,427.10" fill="none" stroke="#ff1010" stroke-width="1.4" stroke-linejoin="round" stroke-linecap="butt"/>
<path d="M505.20,416.10 L505.32,416.11 L505.60,416.13 L505.99,416.16 L506.48,416.20 L507.08,416.23 L507.76,416.26 L508.53,416.30 L509.37,416.33 L510.30,416.36 L511.30,416.39 L512.37,416.42 L513.52,416.45 L514.73,416.48 L516.01,416.51 L517.35,416.54 L518.76,416.57 L520.23,416.60 L521.77,416.64 L523.36,416.67 L525.02,416.71 L526.73,416.75 L528.50,416.79 L530.33,416.83 L532.22,416.86 L534.16,416.91 L536.15,416.95 L538.21,416.99 L540.31,417.03 L542.47,417.08 L544.68,417.12 L546.94,417.16 L549.26,417.21 L551.62,417.25 L554.04,417.30 L556.51,417.35 L559.02,417.39 L561.59,417.44 L564.21,417.49 L566.87,417.53 L569.58,417.58 L572.34,417.63 L575.15,417.67 L578.01,417.72 L580.91,417.77 L583.86,417.81 L586.85,417.86 L589.89,417.91 L592.98,417.95 L596.11,418.00 L599.28,418.05 L602.51,418.09 L605.77,418.13 L609.08,418.18 L612.44,418.22 L615.83,418.27 L619.27,418.31 L622.76,418.35 L626.29,418.39 L629.86,418.43 L633.47,418.47 L637.13,418.51 L640.82,418.54 L644.56,418.58 L648.34,418.61 L652.17,418.65 L656.03,418.68 L659.94,418.71 L663.88,418.74 L667.87,418.77 L671.90,418.80" fill="none" stroke="#0a6a0a" stroke-width="2.8" stroke-linejoin="round" stroke-linecap="butt"/>
<path d="M505.20,398.40 L505.32,398.41 L505.60,398.43 L505.99,398.46 L506.48,398.49 L507.08,398.53 L507.76,398.58 L508.53,398.63 L509.37,398.68 L510.30,398.74 L511.30,398.80 L512.37,398.86 L513.52,398.93 L514.73,399.00 L516.01,399.07 L517.35,399.15 L518.76,399.23 L520.23,399.31 L521.77,399.40 L523.36,399.48 L525.02,399.57 L526.73,399.66 L528.50,399.76 L530.33,399.85 L532.22,399.95 L534.16,400.05 L536.15,400.15 L538.21,400.25 L540.31,400.35 L542.47,400.45 L544.68,400.55 L546.94,400.65 L549.26,400.76 L551.62,400.86 L554.04,400.96 L556.51,401.06 L559.02,401.17 L561.59,401.27 L564.21,401.37 L566.87,401.47 L569.58,401.57 L572.34,401.67 L575.15,401.76 L578.01,401.86 L580.91,401.95 L583.86,402.04 L586.85,402.13 L589.89,402.22 L592.98,402.30 L596.11,402.39 L599.28,402.47 L602.51,402.54 L605.77,402.62 L609.08,402.69 L612.44,402.75 L615.83,402.82 L619.27,402.87 L622.76,402.93 L626.29,402.98 L629.86,403.03 L633.47,403.07 L637.13,403.11 L640.82,403.14 L644.56,403.17 L648.34,403.19 L652.17,403.21 L656.03,403.22 L659.94,403.22 L663.88,403.22 L667.87,403.21 L671.90,403.20" fill="none" stroke="#0000ff" stroke-width="2.4" stroke-linejoin="round" stroke-linecap="butt"/>
<path d="M505.20,377.40 L505.32,377.40 L505.60,377.40 L505.99,377.41 L506.48,377.42 L507.08,377.44 L507.76,377.47 L508.53,377.51 L509.37,377.56 L510.30,377.62 L511.30,377.68 L512.37,377.76 L513.52,377.84 L514.73,377.92 L516.01,378.01 L517.35,378.11 L518.76,378.21 L520.23,378.32 L521.77,378.43 L523.36,378.54 L525.02,378.65 L526.73,378.77 L528.50,378.90 L530.33,379.02 L532.22,379.15 L534.16,379.28 L536.15,379.41 L538.21,379.55 L540.31,379.69 L542.47,379.83 L544.68,379.97 L546.94,380.11 L549.26,380.26 L551.62,380.40 L554.04,380.55 L556.51,380.70 L559.02,380.85 L561.59,381.00 L564.21,381.15 L566.87,381.31 L569.58,381.46 L572.34,381.61 L575.15,381.77 L578.01,381.92 L580.91,382.08 L583.86,382.23 L586.85,382.38 L589.89,382.54 L592.98,382.69 L596.11,382.84 L599.28,382.99 L602.51,383.14 L605.77,383.29 L609.08,383.44 L612.44,383.58 L615.83,383.73 L619.27,383.87 L622.76,384.01 L626.29,384.15 L629.86,384.29 L633.47,384.42 L637.13,384.55 L640.82,384.68 L644.56,384.81 L648.34,384.93 L652.17,385.05 L656.03,385.17 L659.94,385.28 L663.88,385.39 L667.87,385.50 L671.90,385.60" fill="none" stroke="#ff1aff" stroke-width="1.6" stroke-linejoin="round" stroke-linecap="butt"/>
<path d="M505.20,371.90 L505.32,371.88 L505.60,371.85 L505.99,371.81 L506.48,371.78 L507.08,371.76 L507.76,371.76 L508.53,371.78 L509.37,371.82 L510.30,371.87 L511.30,371.94 L512.37,372.03 L513.52,372.12 L514.73,372.23 L516.01,372.34 L517.35,372.46 L518.76,372.59 L520.23,372.72 L521.77,372.86 L523.36,373.00 L525.02,373.14 L526.73,373.29 L528.50,373.45 L530.33,373.60 L532.22,373.76 L534.16,373.92 L536.15,374.08 L538.21,374.25 L540.31,374.42 L542.47,374.59 L544.68,374.76 L546.94,374.93 L549.26,375.10 L551.62,375.27 L554.04,375.45 L556.51,375.62 L559.02,375.80 L561.59,375.97 L564.21,376.15 L566.87,376.32 L569.58,376.49 L572.34,376.67 L575.15,376.84 L578.01,377.01 L580.91,377.17 L583.86,377.34 L586.85,377.50 L589.89,377.66 L592.98,377.82 L596.11,377.98 L599.28,378.13 L602.51,378.28 L605.77,378.42 L609.08,378.56 L612.44,378.70 L615.83,378.83 L619.27,378.96 L622.76,379.08 L626.29,379.20 L629.86,379.31 L633.47,379.41 L637.13,379.51 L640.82,379.61 L644.56,379.69 L648.34,379.77 L652.17,379.85 L656.03,379.91 L659.94,379.97 L663.88,380.02 L667.87,380.07 L671.90,380.10" fill="none" stroke="#ff1aff" stroke-width="1.6" stroke-linejoin="round" stroke-linecap="butt"/>
<path d="M505.20,350.80 L505.32,350.81 L505.60,350.82 L505.99,350.84 L506.48,350.88 L507.08,350.92 L507.76,350.97 L508.53,351.03 L509.37,351.11 L510.30,351.19 L511.30,351.28 L512.37,351.38 L513.52,351.49 L514.73,351.60 L516.01,351.72 L517.35,351.85 L518.76,351.98 L520.23,352.12 L521.77,352.27 L523.36,352.41 L525.02,352.57 L526.73,352.72 L528.50,352.89 L530.33,353.05 L532.22,353.22 L534.16,353.40 L536.15,353.57 L538.21,353.75 L540.31,353.94 L542.47,354.13 L544.68,354.32 L546.94,354.51 L549.26,354.71 L551.62,354.91 L554.04,355.11 L556.51,355.31 L559.02,355.52 L561.59,355.73 L564.21,355.94 L566.87,356.15 L569.58,356.36 L572.34,356.58 L575.15,356.79 L578.01,357.01 L580.91,357.23 L583.86,357.44 L586.85,357.66 L589.89,357.88 L592.98,358.10 L596.11,358.32 L599.28,358.54 L602.51,358.76 L605.77,358.98 L609.08,359.20 L612.44,359.42 L615.83,359.64 L619.27,359.85 L622.76,360.07 L626.29,360.28 L629.86,360.50 L633.47,360.71 L637.13,360.92 L640.82,361.12 L644.56,361.33 L648.34,361.53 L652.17,361.73 L656.03,361.93 L659.94,362.13 L663.88,362.32 L667.87,362.51 L671.90,362.70" fill="none" stroke="#00cdcd" stroke-width="1.6" stroke-linejoin="round" stroke-linecap="butt"/>
<path d="M505.20,341.40 L505.32,341.40 L505.60,341.42 L505.99,341.43 L506.48,341.46 L507.08,341.51 L507.76,341.56 L508.53,341.63 L509.37,341.70 L510.30,341.79 L511.30,341.89 L512.37,342.00 L513.52,342.12 L514.73,342.25 L516.01,342.38 L517.35,342.52 L518.76,342.67 L520.23,342.82 L521.77,342.98 L523.36,343.15 L525.02,343.32 L526.73,343.49 L528.50,343.67 L530.33,343.86 L532.22,344.04 L534.16,344.24 L536.15,344.43 L538.21,344.63 L540.31,344.84 L542.47,345.04 L544.68,345.25 L546.94,345.47 L549.26,345.68 L551.62,345.90 L554.04,346.12 L556.51,346.35 L559.02,346.57 L561.59,346.80 L564.21,347.03 L566.87,347.26 L569.58,347.49 L572.34,347.73 L575.15,347.96 L578.01,348.20 L580.91,348.43 L583.86,348.67 L586.85,348.91 L589.89,349.14 L592.98,349.38 L596.11,349.62 L599.28,349.85 L602.51,350.09 L605.77,350.33 L609.08,350.56 L612.44,350.79 L615.83,351.02 L619.27,351.25 L622.76,351.48 L626.29,351.71 L629.86,351.93 L633.47,352.15 L637.13,352.37 L640.82,352.59 L644.56,352.80 L648.34,353.01 L652.17,353.22 L656.03,353.42 L659.94,353.62 L663.88,353.82 L667.87,354.01 L671.90,354.20" fill="none" stroke="#00cdcd" stroke-width="1.6" stroke-linejoin="round" stroke-linecap="butt"/>
<path d="M505.20,326.00 L505.32,326.03 L505.60,326.08 L505.99,326.16 L506.48,326.26 L507.08,326.36 L507.76,326.47 L508.53,326.59 L509.37,326.72 L510.30,326.85 L511.30,326.99 L512.37,327.13 L513.52,327.28 L514.73,327.43 L516.01,327.60 L517.35,327.77 L518.76,327.94 L520.23,328.13 L521.77,328.32 L523.36,328.52 L525.02,328.72 L526.73,328.93 L528.50,329.15 L530.33,329.37 L532.22,329.60 L534.16,329.83 L536.15,330.07 L538.21,330.32 L540.31,330.57 L542.47,330.82 L544.68,331.08 L546.94,331.35 L549.26,331.62 L551.62,331.89 L554.04,332.17 L556.51,332.45 L559.02,332.73 L561.59,333.02 L564.21,333.31 L566.87,333.61 L569.58,333.90 L572.34,334.21 L575.15,334.51 L578.01,334.82 L580.91,335.12 L583.86,335.44 L586.85,335.75 L589.89,336.06 L592.98,336.38 L596.11,336.70 L599.28,337.02 L602.51,337.34 L605.77,337.67 L609.08,337.99 L612.44,338.31 L615.83,338.64 L619.27,338.97 L622.76,339.29 L626.29,339.62 L629.86,339.95 L633.47,340.27 L637.13,340.60 L640.82,340.93 L644.56,341.25 L648.34,341.58 L652.17,341.90 L656.03,342.22 L659.94,342.54 L663.88,342.86 L667.87,343.18 L671.90,343.50" fill="none" stroke="#daa520" stroke-width="1.6" stroke-linejoin="round" stroke-linecap="butt"/>
<path d="M505.20,313.60 L505.32,313.67 L505.60,313.82 L505.99,314.01 L506.48,314.22 L507.08,314.44 L507.76,314.65 L508.53,314.86 L509.37,315.05 L510.30,315.23 L511.30,315.40 L512.37,315.57 L513.52,315.74 L514.73,315.91 L516.01,316.08 L517.35,316.26 L518.76,316.44 L520.23,316.63 L521.77,316.82 L523.36,317.02 L525.02,317.23 L526.73,317.44 L528.50,317.66 L530.33,317.88 L532.22,318.11 L534.16,318.35 L536.15,318.59 L538.21,318.83 L540.31,319.08 L542.47,319.34 L544.68,319.60 L546.94,319.86 L549.26,320.13 L551.62,320.40 L554.04,320.68 L556.51,320.96 L559.02,321.24 L561.59,321.52 L564.21,321.81 L566.87,322.10 L569.58,322.40 L572.34,322.69 L575.15,322.99 L578.01,323.29 L580.91,323.60 L583.86,323.90 L586.85,324.20 L589.89,324.51 L592.98,324.82 L596.11,325.13 L599.28,325.44 L602.51,325.75 L605.77,326.06 L609.08,326.37 L612.44,326.68 L615.83,326.99 L619.27,327.30 L622.76,327.61 L626.29,327.92 L629.86,328.23 L633.47,328.53 L637.13,328.84 L640.82,329.14 L644.56,329.45 L648.34,329.75 L652.17,330.04 L656.03,330.34 L659.94,330.63 L663.88,330.93 L667.87,331.21 L671.90,331.50" fill="none" stroke="#daa520" stroke-width="1.6" stroke-linejoin="round" stroke-linecap="butt"/>
<path d="M505.20,307.70 L505.32,307.83 L505.60,308.12 L505.99,308.47 L506.48,308.86 L507.08,309.25 L507.76,309.62 L508.53,309.95 L509.37,310.25 L510.30,310.52 L511.30,310.76 L512.37,310.98 L513.52,311.19 L514.73,311.40 L516.01,311.60 L517.35,311.80 L518.76,312.01 L520.23,312.23 L521.77,312.45 L523.36,312.68 L525.02,312.92 L526.73,313.16 L528.50,313.41 L530.33,313.67 L532.22,313.93 L534.16,314.21 L536.15,314.48 L538.21,314.77 L540.31,315.06 L542.47,315.36 L544.68,315.66 L546.94,315.97 L549.26,316.29 L551.62,316.61 L554.04,316.94 L556.51,317.27 L559.02,317.61 L561.59,317.95 L564.21,318.30 L566.87,318.65 L569.58,319.00 L572.34,319.36 L575.15,319.73 L578.01,320.10 L580.91,320.47 L583.86,320.85 L586.85,321.23 L589.89,321.61 L592.98,322.00 L596.11,322.39 L599.28,322.78 L602.51,323.18 L605.77,323.58 L609.08,323.98 L612.44,324.39 L615.83,324.80 L619.27,325.20 L622.76,325.62 L626.29,326.03 L629.86,326.45 L633.47,326.86 L637.13,327.28 L640.82,327.70 L644.56,328.12 L648.34,328.55 L652.17,328.97 L656.03,329.40 L659.94,329.82 L663.88,330.25 L667.87,330.67 L671.90,331.10" fill="none" stroke="#960a96" stroke-width="1.6" stroke-linejoin="round" stroke-linecap="butt"/>
<path d="M505.20,297.40 L505.32,297.58 L505.60,297.94 L505.99,298.41 L506.48,298.92 L507.08,299.42 L507.76,299.88 L508.53,300.30 L509.37,300.66 L510.30,300.98 L511.30,301.26 L512.37,301.51 L513.52,301.74 L514.73,301.96 L516.01,302.18 L517.35,302.39 L518.76,302.61 L520.23,302.83 L521.77,303.06 L523.36,303.29 L525.02,303.53 L526.73,303.78 L528.50,304.04 L530.33,304.30 L532.22,304.57 L534.16,304.85 L536.15,305.13 L538.21,305.42 L540.31,305.72 L542.47,306.02 L544.68,306.33 L546.94,306.65 L549.26,306.97 L551.62,307.29 L554.04,307.62 L556.51,307.96 L559.02,308.30 L561.59,308.64 L564.21,308.99 L566.87,309.35 L569.58,309.71 L572.34,310.07 L575.15,310.44 L578.01,310.81 L580.91,311.18 L583.86,311.56 L586.85,311.94 L589.89,312.32 L592.98,312.71 L596.11,313.10 L599.28,313.49 L602.51,313.88 L605.77,314.28 L609.08,314.68 L612.44,315.08 L615.83,315.48 L619.27,315.88 L622.76,316.28 L626.29,316.69 L629.86,317.10 L633.47,317.51 L637.13,317.91 L640.82,318.32 L644.56,318.73 L648.34,319.14 L652.17,319.55 L656.03,319.96 L659.94,320.37 L663.88,320.78 L667.87,321.19 L671.90,321.60" fill="none" stroke="#960a96" stroke-width="1.6" stroke-linejoin="round" stroke-linecap="butt"/>
<rect x="410.50" y="445.80" width="1.4" height="1.6" fill="#7fe6e6"/>
<rect x="410.30" y="451.20" width="1.4" height="1.6" fill="#e8c56e"/>
<rect x="410.50" y="458.20" width="1.4" height="1.6" fill="#d58ad5"/>
<rect x="410.30" y="461.40" width="1.4" height="1.6" fill="#d58ad5"/>
<rect x="410.60" y="443.80" width="1.4" height="1.6" fill="#ff80ff"/>
</svg>
</body></html>
